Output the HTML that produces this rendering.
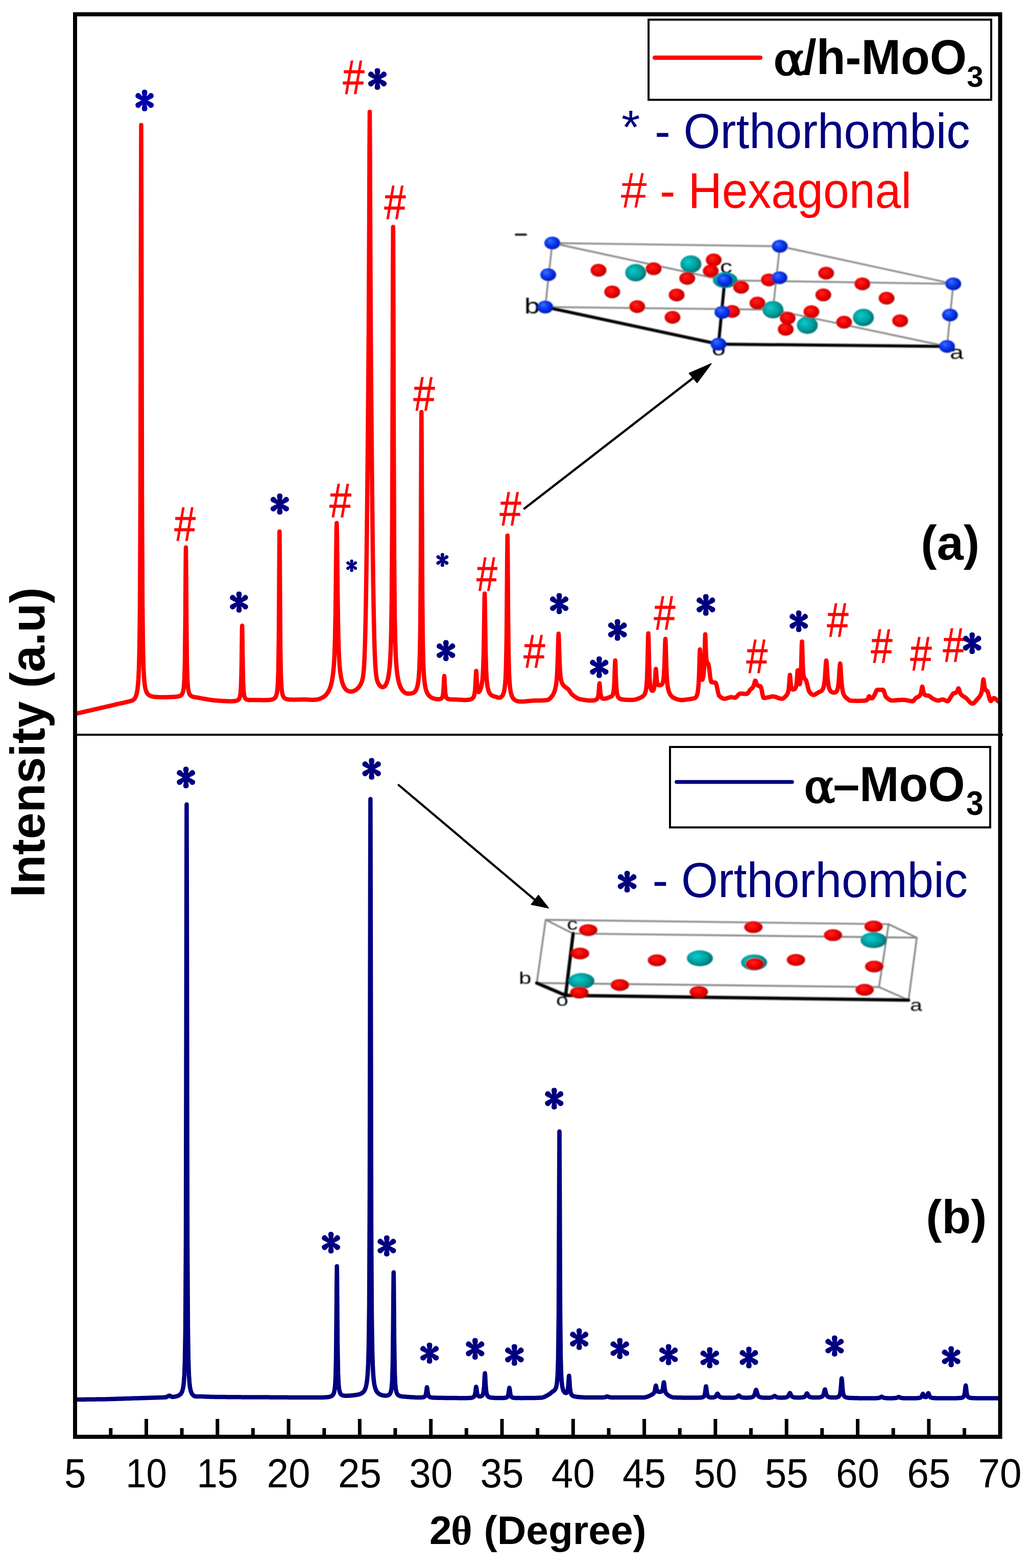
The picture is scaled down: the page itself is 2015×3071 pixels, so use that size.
<!DOCTYPE html>
<html><head><meta charset="utf-8"><title>XRD patterns of MoO3</title>
<style>html,body{margin:0;padding:0;background:#fff;width:2015px;height:3071px;overflow:hidden}svg{display:block}</style>
</head><body>
<svg width="2015" height="3071" viewBox="0 0 2015 3071"><defs>
<radialGradient id="gr" cx="0.45" cy="0.45" r="0.6" fx="0.4" fy="0.35">
 <stop offset="0" stop-color="#ff2020"/><stop offset="0.55" stop-color="#f00000"/><stop offset="0.85" stop-color="#c00000"/><stop offset="1" stop-color="#900000"/></radialGradient>
<radialGradient id="gt" cx="0.45" cy="0.45" r="0.6" fx="0.35" fy="0.35">
 <stop offset="0" stop-color="#10caca"/><stop offset="0.5" stop-color="#00a8a8"/><stop offset="0.85" stop-color="#008080"/><stop offset="1" stop-color="#005555"/></radialGradient>
<radialGradient id="gb" cx="0.45" cy="0.45" r="0.6" fx="0.35" fy="0.3">
 <stop offset="0" stop-color="#4070ff"/><stop offset="0.5" stop-color="#0a3af0"/><stop offset="0.85" stop-color="#0020c0"/><stop offset="1" stop-color="#001490"/></radialGradient>
<filter id="bl" x="-5%" y="-5%" width="110%" height="110%"><feGaussianBlur stdDeviation="0.9"/></filter>
</defs><rect width="2015" height="3071" fill="#fff"/><g filter="url(#bl)"><line x1="1081.5" y1="476.0" x2="1527.0" y2="482.3" stroke="#8a8a8a" stroke-width="3.5" stroke-linecap="round"/><line x1="1081.5" y1="476.0" x2="1419.2" y2="549.0" stroke="#8a8a8a" stroke-width="3.5" stroke-linecap="round"/><line x1="1419.2" y1="549.0" x2="1866.7" y2="555.9" stroke="#8a8a8a" stroke-width="3.5" stroke-linecap="round"/><line x1="1527.0" y1="482.3" x2="1866.7" y2="555.9" stroke="#8a8a8a" stroke-width="3.5" stroke-linecap="round"/><line x1="1081.5" y1="476.0" x2="1067.7" y2="601.3" stroke="#8a8a8a" stroke-width="3.5" stroke-linecap="round"/><line x1="1527.0" y1="482.3" x2="1513.6" y2="606.5" stroke="#8a8a8a" stroke-width="3.5" stroke-linecap="round"/><line x1="1866.7" y1="555.9" x2="1854.5" y2="678.5" stroke="#8a8a8a" stroke-width="3.5" stroke-linecap="round"/><line x1="1067.7" y1="601.3" x2="1513.6" y2="606.5" stroke="#8a8a8a" stroke-width="3.5" stroke-linecap="round"/><line x1="1513.6" y1="606.5" x2="1854.5" y2="678.5" stroke="#8a8a8a" stroke-width="3.5" stroke-linecap="round"/><line x1="1010.0" y1="459.5" x2="1030.0" y2="459.5" stroke="#111" stroke-width="4" stroke-linecap="round"/><line x1="1067.7" y1="601.3" x2="1407.0" y2="674.0" stroke="#000" stroke-width="6" stroke-linecap="round"/><line x1="1407.0" y1="674.0" x2="1854.5" y2="678.5" stroke="#000" stroke-width="6" stroke-linecap="round"/><line x1="1407.0" y1="674.0" x2="1419.2" y2="549.0" stroke="#000" stroke-width="6" stroke-linecap="round"/><text transform="translate(1027,614) scale(1.25,1)" font-family="'Liberation Sans', Arial, sans-serif" font-size="43" fill="#000">b</text><text transform="translate(1410,535) scale(1.3,1)" font-family="'Liberation Sans', Arial, sans-serif" font-size="37" fill="#000">c</text><text transform="translate(1394,696) scale(1.3,1)" font-family="'Liberation Sans', Arial, sans-serif" font-size="37" fill="#000">o</text><text transform="translate(1860,703) scale(1.3,1)" font-family="'Liberation Sans', Arial, sans-serif" font-size="37" fill="#000">a</text><ellipse cx="1244.8" cy="534.0" rx="20.5" ry="17" fill="url(#gt)"/><ellipse cx="1352.9" cy="517.2" rx="20.5" ry="17" fill="url(#gt)"/><ellipse cx="1513.6" cy="606.5" rx="20.5" ry="17" fill="url(#gt)"/><ellipse cx="1580.9" cy="636.9" rx="20.5" ry="17" fill="url(#gt)"/><ellipse cx="1690.7" cy="621.8" rx="20.5" ry="17" fill="url(#gt)"/><ellipse cx="1420.0" cy="548.5" rx="24" ry="15.5" fill="url(#gt)"/><ellipse cx="1172.0" cy="529.3" rx="15.5" ry="12.5" fill="url(#gr)"/><ellipse cx="1280.0" cy="526.3" rx="15.5" ry="12.5" fill="url(#gr)"/><ellipse cx="1397.6" cy="509.1" rx="15.5" ry="12.5" fill="url(#gr)"/><ellipse cx="1391.8" cy="530.8" rx="15.5" ry="12.5" fill="url(#gr)"/><ellipse cx="1345.7" cy="545.2" rx="15.5" ry="12.5" fill="url(#gr)"/><ellipse cx="1198.8" cy="571.7" rx="15.5" ry="12.5" fill="url(#gr)"/><ellipse cx="1325.0" cy="577.7" rx="15.5" ry="12.5" fill="url(#gr)"/><ellipse cx="1247.8" cy="600.5" rx="15.5" ry="12.5" fill="url(#gr)"/><ellipse cx="1316.9" cy="621.5" rx="15.5" ry="12.5" fill="url(#gr)"/><ellipse cx="1451.2" cy="562.6" rx="15.5" ry="12.5" fill="url(#gr)"/><ellipse cx="1433.6" cy="610.0" rx="15.5" ry="12.5" fill="url(#gr)"/><ellipse cx="1505.6" cy="548.2" rx="15.5" ry="12.5" fill="url(#gr)"/><ellipse cx="1483.2" cy="593.6" rx="15.5" ry="12.5" fill="url(#gr)"/><ellipse cx="1617.7" cy="535.0" rx="15.5" ry="12.5" fill="url(#gr)"/><ellipse cx="1688.7" cy="555.9" rx="15.5" ry="12.5" fill="url(#gr)"/><ellipse cx="1612.2" cy="577.6" rx="15.5" ry="12.5" fill="url(#gr)"/><ellipse cx="1736.1" cy="584.0" rx="15.5" ry="12.5" fill="url(#gr)"/><ellipse cx="1588.9" cy="610.6" rx="15.5" ry="12.5" fill="url(#gr)"/><ellipse cx="1542.4" cy="623.1" rx="15.5" ry="12.5" fill="url(#gr)"/><ellipse cx="1538.6" cy="644.9" rx="15.5" ry="12.5" fill="url(#gr)"/><ellipse cx="1652.9" cy="631.1" rx="15.5" ry="12.5" fill="url(#gr)"/><ellipse cx="1762.7" cy="628.2" rx="15.5" ry="12.5" fill="url(#gr)"/><ellipse cx="1081.5" cy="476.0" rx="15.5" ry="12.5" fill="url(#gb)"/><ellipse cx="1073.5" cy="538.0" rx="15.5" ry="12.5" fill="url(#gb)"/><ellipse cx="1067.7" cy="601.3" rx="15.5" ry="12.5" fill="url(#gb)"/><ellipse cx="1407.0" cy="674.0" rx="15.5" ry="12.5" fill="url(#gb)"/><ellipse cx="1414.7" cy="611.7" rx="15.5" ry="12.5" fill="url(#gb)"/><ellipse cx="1419.2" cy="549.0" rx="15.5" ry="12.5" fill="url(#gb)"/><ellipse cx="1527.0" cy="482.3" rx="15.5" ry="12.5" fill="url(#gb)"/><ellipse cx="1526.4" cy="544.0" rx="15.5" ry="12.5" fill="url(#gb)"/><ellipse cx="1866.7" cy="555.9" rx="15.5" ry="12.5" fill="url(#gb)"/><ellipse cx="1860.3" cy="617.0" rx="15.5" ry="12.5" fill="url(#gb)"/><ellipse cx="1854.5" cy="678.5" rx="15.5" ry="12.5" fill="url(#gb)"/></g><g filter="url(#bl)"><line x1="1068.6" y1="1801.5" x2="1740.1" y2="1810.1" stroke="#858585" stroke-width="3.4" stroke-linecap="round"/><line x1="1068.6" y1="1801.5" x2="1122.3" y2="1828.4" stroke="#858585" stroke-width="3.4" stroke-linecap="round"/><line x1="1068.6" y1="1801.5" x2="1051.1" y2="1925.2" stroke="#858585" stroke-width="3.4" stroke-linecap="round"/><line x1="1122.3" y1="1828.4" x2="1795.3" y2="1836.5" stroke="#858585" stroke-width="3.4" stroke-linecap="round"/><line x1="1051.1" y1="1925.2" x2="1721.3" y2="1933.3" stroke="#858585" stroke-width="3.4" stroke-linecap="round"/><line x1="1740.1" y1="1810.1" x2="1795.3" y2="1836.5" stroke="#858585" stroke-width="3.4" stroke-linecap="round"/><line x1="1740.1" y1="1810.1" x2="1721.3" y2="1933.3" stroke="#858585" stroke-width="3.4" stroke-linecap="round"/><line x1="1795.3" y1="1836.5" x2="1779.1" y2="1958.8" stroke="#858585" stroke-width="3.4" stroke-linecap="round"/><line x1="1721.3" y1="1933.3" x2="1779.1" y2="1958.8" stroke="#858585" stroke-width="3.4" stroke-linecap="round"/><line x1="1122.3" y1="1828.4" x2="1107.6" y2="1949.4" stroke="#000" stroke-width="6.5" stroke-linecap="round"/><line x1="1051.1" y1="1925.2" x2="1107.6" y2="1949.4" stroke="#000" stroke-width="6.5" stroke-linecap="round"/><line x1="1107.6" y1="1949.4" x2="1779.1" y2="1958.8" stroke="#000" stroke-width="6.5" stroke-linecap="round"/><text transform="translate(1110,1821) scale(1.3,1)" font-family="'Liberation Sans', Arial, sans-serif" font-size="33" fill="#000">c</text><text transform="translate(1016,1927) scale(1.3,1)" font-family="'Liberation Sans', Arial, sans-serif" font-size="34" fill="#000">b</text><text transform="translate(1089,1970) scale(1.3,1)" font-family="'Liberation Sans', Arial, sans-serif" font-size="33" fill="#000">o</text><text transform="translate(1782,1979.5) scale(1.3,1)" font-family="'Liberation Sans', Arial, sans-serif" font-size="33" fill="#000">a</text><ellipse cx="1370.5" cy="1876.8" rx="25.5" ry="15.5" fill="url(#gt)"/><ellipse cx="1138.5" cy="1921.2" rx="25.5" ry="15.5" fill="url(#gt)"/><ellipse cx="1476.6" cy="1884.9" rx="25.5" ry="15.5" fill="url(#gt)"/><ellipse cx="1710.6" cy="1841.3" rx="25.5" ry="15.5" fill="url(#gt)"/><ellipse cx="1151.9" cy="1821.7" rx="18" ry="11.5" fill="url(#gr)"/><ellipse cx="1135.8" cy="1867.4" rx="18" ry="11.5" fill="url(#gr)"/><ellipse cx="1286.4" cy="1880.8" rx="18" ry="11.5" fill="url(#gr)"/><ellipse cx="1213.8" cy="1929.2" rx="18" ry="11.5" fill="url(#gr)"/><ellipse cx="1134.4" cy="1944.0" rx="18" ry="11.5" fill="url(#gr)"/><ellipse cx="1368.4" cy="1942.7" rx="18" ry="11.5" fill="url(#gr)"/><ellipse cx="1475.3" cy="1815.8" rx="18" ry="11.5" fill="url(#gr)"/><ellipse cx="1631.2" cy="1831.6" rx="18" ry="11.5" fill="url(#gr)"/><ellipse cx="1710.6" cy="1814.4" rx="18" ry="11.5" fill="url(#gr)"/><ellipse cx="1558.6" cy="1880.0" rx="18" ry="11.5" fill="url(#gr)"/><ellipse cx="1478.0" cy="1888.1" rx="18" ry="11.5" fill="url(#gr)"/><ellipse cx="1711.9" cy="1892.9" rx="18" ry="11.5" fill="url(#gr)"/><ellipse cx="1693.1" cy="1938.6" rx="18" ry="11.5" fill="url(#gr)"/></g><polyline fill="none" stroke="#ff0000" stroke-width="8.5" stroke-linejoin="round" stroke-linecap="round" points="151,1397.3 152,1397.1 153,1396.8 154,1396.6 155,1396.4 156,1396.1 157,1395.9 158,1395.7 159,1395.5 160,1395.2 161,1395.0 162,1394.8 163,1394.5 164,1394.3 165,1394.1 166,1393.8 167,1393.6 168,1393.4 169,1393.1 170,1392.9 171,1392.7 172,1392.4 173,1392.2 174,1392.0 175,1391.8 176,1391.5 177,1391.3 178,1391.1 179,1390.8 180,1390.6 181,1390.4 182,1390.1 183,1389.9 184,1389.7 185,1389.4 186,1389.2 187,1389.0 188,1388.8 189,1388.5 190,1388.3 191,1388.1 192,1387.8 193,1387.6 194,1387.4 195,1387.1 196,1386.9 197,1386.7 198,1386.4 199,1386.2 200,1386.0 201,1385.8 202,1385.5 203,1385.3 204,1385.1 205,1384.8 206,1384.6 207,1384.4 208,1384.2 209,1383.9 210,1383.7 211,1383.5 212,1383.2 213,1383.0 214,1382.8 215,1382.5 216,1382.3 217,1382.0 218,1381.8 219,1381.5 220,1381.3 221,1381.1 222,1380.8 223,1380.6 224,1380.3 225,1380.1 226,1379.9 227,1379.6 228,1379.4 229,1379.2 230,1378.9 231,1378.7 232,1378.5 233,1378.3 234,1378.1 235,1377.9 236,1377.7 237,1377.5 238,1377.3 239,1377.1 240,1376.8 241,1376.6 242,1376.4 243,1376.1 244,1375.9 245,1375.6 246,1375.4 247,1375.2 248,1374.9 249,1374.7 250,1374.5 251,1374.2 252,1374.0 253,1373.7 254,1373.5 255,1373.2 256,1372.9 257,1372.6 258,1372.3 259,1371.9 260,1371.4 261,1370.8 262,1370.0 263,1369.0 264,1367.7 265,1366.0 266,1363.7 267,1360.8 268,1356.9 269,1351.4 270,1343.4 271,1331.0 272,1310.4 273,1272.2 274,1190.3 275,978.5 276,438.0 276.5,244.8 277,437.6 278,977.1 279,1188.0 280,1269.0 281,1306.4 282,1326.1 283,1337.7 284,1345.0 285,1349.9 286,1353.2 287,1355.6 288,1357.5 289,1358.9 290,1360.0 291,1360.9 292,1361.7 293,1362.3 294,1362.8 295,1363.2 296,1363.5 297,1363.8 298,1364.0 299,1364.3 300,1364.4 301,1364.6 302,1364.7 303,1364.9 304,1365.0 305,1365.0 306,1365.1 307,1365.2 308,1365.2 309,1365.3 310,1365.3 311,1365.4 312,1365.4 313,1365.4 314,1365.5 315,1365.5 316,1365.5 317,1365.5 318,1365.5 319,1365.5 320,1365.5 321,1365.5 322,1365.5 323,1365.5 324,1365.4 325,1365.4 326,1365.4 327,1365.4 328,1365.3 329,1365.3 330,1365.3 331,1365.3 332,1365.2 333,1365.2 334,1365.1 335,1365.1 336,1365.1 337,1365.0 338,1365.0 339,1364.9 340,1364.9 341,1364.8 342,1364.7 343,1364.7 344,1364.6 345,1364.5 346,1364.4 347,1364.3 348,1364.1 349,1364.0 350,1363.7 351,1363.5 352,1363.1 353,1362.7 354,1362.1 355,1361.3 356,1360.2 357,1358.6 358,1356.2 359,1352.2 360,1345.1 361,1331.0 362,1297.6 363,1205.1 363.5,1122.6 364,1072.3 364.5,1122.6 365,1205.2 366,1297.8 367,1331.2 368,1345.4 369,1352.5 370,1356.6 371,1359.1 372,1360.7 373,1361.9 374,1362.8 375,1363.4 376,1363.9 377,1364.3 378,1364.7 379,1364.9 380,1365.2 381,1365.4 382,1365.6 383,1365.7 384,1365.9 385,1366.0 386,1366.1 387,1366.3 388,1366.5 389,1366.6 390,1366.8 391,1367.0 392,1367.2 393,1367.4 394,1367.6 395,1367.8 396,1368.0 397,1368.2 398,1368.3 399,1368.5 400,1368.7 401,1368.9 402,1369.0 403,1369.2 404,1369.4 405,1369.6 406,1369.7 407,1369.9 408,1370.1 409,1370.3 410,1370.4 411,1370.6 412,1370.7 413,1370.9 414,1371.0 415,1371.2 416,1371.3 417,1371.4 418,1371.5 419,1371.7 420,1371.8 421,1371.8 422,1371.9 423,1372.0 424,1372.1 425,1372.1 426,1372.2 427,1372.3 428,1372.4 429,1372.4 430,1372.5 431,1372.6 432,1372.6 433,1372.7 434,1372.8 435,1372.8 436,1372.9 437,1373.0 438,1373.0 439,1373.1 440,1373.1 441,1373.2 442,1373.2 443,1373.2 444,1373.3 445,1373.3 446,1373.3 447,1373.4 448,1373.4 449,1373.4 450,1373.4 451,1373.4 452,1373.4 453,1373.4 454,1373.4 455,1373.4 456,1373.3 457,1373.3 458,1373.2 459,1373.1 460,1373.0 461,1372.9 462,1372.7 463,1372.4 464,1372.1 465,1371.7 466,1371.1 467,1370.3 468,1369.1 469,1367.2 470,1364.0 471,1357.8 472,1343.8 473,1305.8 473.7,1250.8 474,1230.2 474.2,1225.5 474.7,1250.7 475,1276.5 476,1332.8 477,1353.2 478,1361.4 479,1365.3 480,1367.5 481,1368.8 482,1369.6 483,1370.1 484,1370.4 485,1370.6 486,1370.8 487,1370.9 488,1371.0 489,1371.0 490,1371.0 491,1371.0 492,1371.0 493,1371.0 494,1371.0 495,1371.0 496,1371.0 497,1371.0 498,1371.0 499,1371.0 500,1371.0 501,1371.0 502,1371.0 503,1371.0 504,1371.0 505,1371.1 506,1371.1 507,1371.1 508,1371.1 509,1371.1 510,1371.1 511,1371.1 512,1371.2 513,1371.2 514,1371.2 515,1371.2 516,1371.2 517,1371.2 518,1371.2 519,1371.2 520,1371.2 521,1371.2 522,1371.1 523,1371.1 524,1371.1 525,1371.0 526,1370.9 527,1370.9 528,1370.8 529,1370.6 530,1370.5 531,1370.3 532,1370.1 533,1369.9 534,1369.6 535,1369.2 536,1368.7 537,1368.1 538,1367.3 539,1366.1 540,1364.6 541,1362.2 542,1358.5 543,1352.2 544,1340.3 545,1314.2 546,1245.4 546.9,1097.6 547,1079.6 547.4,1041.0 547.9,1097.6 548,1116.8 549,1265.5 550,1321.3 551,1343.3 552,1353.6 553,1359.2 554,1362.5 555,1364.7 556,1366.1 557,1367.1 558,1367.8 559,1368.4 560,1368.8 561,1369.1 562,1369.4 563,1369.6 564,1369.8 565,1369.9 566,1370.0 567,1370.1 568,1370.2 569,1370.2 570,1370.3 571,1370.3 572,1370.3 573,1370.3 574,1370.4 575,1370.4 576,1370.4 577,1370.4 578,1370.3 579,1370.3 580,1370.3 581,1370.3 582,1370.3 583,1370.3 584,1370.2 585,1370.2 586,1370.2 587,1370.1 588,1370.1 589,1370.0 590,1370.0 591,1370.0 592,1369.9 593,1369.9 594,1369.9 595,1369.9 596,1370.0 597,1370.0 598,1370.0 599,1370.1 600,1370.1 601,1370.2 602,1370.2 603,1370.3 604,1370.4 605,1370.4 606,1370.5 607,1370.5 608,1370.6 609,1370.6 610,1370.6 611,1370.7 612,1370.7 613,1370.7 614,1370.6 615,1370.6 616,1370.6 617,1370.5 618,1370.4 619,1370.3 620,1370.2 621,1370.0 622,1369.8 623,1369.6 624,1369.3 625,1369.0 626,1368.7 627,1368.3 628,1367.9 629,1367.5 630,1367.0 631,1366.5 632,1365.9 633,1365.3 634,1364.6 635,1363.9 636,1363.1 637,1362.2 638,1361.2 639,1360.1 640,1358.9 641,1357.6 642,1356.1 643,1354.4 644,1352.5 645,1350.4 646,1347.9 647,1345.1 648,1341.9 649,1338.1 650,1333.6 651,1328.1 652,1321.2 653,1312.3 654,1299.9 655,1281.4 656,1251.7 657,1200.6 658,1116.0 658.8,1042.6 659,1031.2 659.3,1024.4 659.8,1042.4 660,1057.8 661,1153.3 662,1223.5 663,1264.1 664,1288.0 665,1303.3 666,1313.7 667,1321.3 668,1327.2 669,1331.9 670,1335.7 671,1338.9 672,1341.5 673,1343.8 674,1345.7 675,1347.3 676,1348.7 677,1349.9 678,1350.9 679,1351.8 680,1352.5 681,1353.0 682,1353.5 683,1353.9 684,1354.2 685,1354.4 686,1354.5 687,1354.5 688,1354.5 689,1354.4 690,1354.2 691,1353.9 692,1353.6 693,1353.3 694,1352.8 695,1352.3 696,1351.7 697,1351.1 698,1350.4 699,1349.5 700,1348.6 701,1347.6 702,1346.5 703,1345.3 704,1343.9 705,1342.4 706,1340.7 707,1338.8 708,1336.5 709,1333.7 710,1329.9 711,1324.4 712,1316.0 713,1303.0 714,1283.0 715,1253.0 716,1210.2 717,1152.1 718,1078.1 719,989.3 720,888.6 721,777.4 722,644.4 723,437.1 723.5,295.9 724,219.0 724.5,296.0 725,437.2 726,644.6 727,777.6 728,888.9 729,989.7 730,1078.6 731,1152.7 732,1210.7 733,1253.6 734,1283.5 735,1303.6 736,1316.6 737,1324.9 738,1330.3 739,1334.0 740,1336.7 741,1338.7 742,1340.4 743,1341.8 744,1343.0 745,1343.9 746,1344.7 747,1345.3 748,1345.6 749,1345.8 750,1345.8 751,1345.5 752,1345.0 753,1344.2 754,1343.2 755,1341.8 756,1340.1 757,1337.9 758,1335.2 759,1331.9 760,1327.8 761,1322.6 762,1315.8 763,1306.7 764,1293.6 765,1273.7 766,1239.8 767,1174.2 768,1026.7 769,687.6 769.3,558.5 769.8,444.4 770,464.9 770.3,558.6 771,852.1 772,1101.9 773,1206.9 774,1256.7 775,1284.0 776,1300.9 777,1312.3 778,1320.7 779,1327.1 780,1332.2 781,1336.3 782,1339.8 783,1342.7 784,1345.2 785,1347.3 786,1349.2 787,1350.7 788,1352.1 789,1353.3 790,1354.3 791,1355.2 792,1356.0 793,1356.7 794,1357.2 795,1357.7 796,1358.1 797,1358.4 798,1358.5 799,1358.6 800,1358.6 801,1358.6 802,1358.5 803,1358.4 804,1358.3 805,1358.2 806,1358.0 807,1357.8 808,1357.5 809,1357.1 810,1356.6 811,1355.9 812,1355.1 813,1353.9 814,1352.5 815,1350.7 816,1348.4 817,1345.3 818,1341.1 819,1335.2 820,1326.4 821,1312.3 822,1286.9 823,1233.1 824,1099.3 824.8,887.0 825,838.8 825.3,807.0 825.8,887.2 826,944.6 827,1169.2 828,1261.2 829,1300.6 830,1320.8 831,1332.7 832,1340.6 833,1346.1 834,1350.2 835,1353.4 836,1355.9 837,1358.0 838,1359.7 839,1361.1 840,1362.3 841,1363.3 842,1364.2 843,1364.9 844,1365.6 845,1366.2 846,1366.7 847,1367.2 848,1367.6 849,1367.9 850,1368.2 851,1368.5 852,1368.7 853,1368.9 854,1369.1 855,1369.2 856,1369.3 857,1369.4 858,1369.4 859,1369.4 860,1369.4 861,1369.3 862,1369.1 863,1368.8 864,1368.3 865,1367.5 866,1366.0 867,1363.1 868,1356.7 869,1341.3 869.5,1330.0 870,1324.0 870.5,1330.0 871,1341.3 872,1356.7 873,1363.1 874,1366.0 875,1367.5 876,1368.3 877,1368.8 878,1369.1 879,1369.4 880,1369.5 881,1369.6 882,1369.7 883,1369.8 884,1369.8 885,1369.9 886,1369.9 887,1369.9 888,1369.9 889,1370.0 890,1370.0 891,1370.0 892,1370.1 893,1370.1 894,1370.2 895,1370.2 896,1370.2 897,1370.3 898,1370.4 899,1370.4 900,1370.5 901,1370.5 902,1370.6 903,1370.6 904,1370.7 905,1370.7 906,1370.8 907,1370.8 908,1370.9 909,1370.9 910,1370.9 911,1370.9 912,1370.9 913,1370.9 914,1370.8 915,1370.8 916,1370.7 917,1370.6 918,1370.5 919,1370.3 920,1370.1 921,1369.8 922,1369.5 923,1369.1 924,1368.6 925,1367.9 926,1366.9 927,1365.6 928,1363.6 929,1360.3 930,1354.0 931,1341.2 932,1319.6 932.5,1314.0 933,1318.8 934,1338.6 935,1349.8 936,1354.1 937,1355.4 938,1355.1 939,1353.9 940,1351.9 941,1349.2 942,1345.9 943,1341.6 943.5,1339.1 944,1336.0 944.5,1332.3 945,1327.7 946,1313.4 947,1285.3 948,1227.0 948.6,1180.7 949,1163.2 949.1,1162.4 949.6,1181.5 950,1212.6 951,1279.4 952,1313.3 953,1330.4 954,1340.2 955,1346.4 956,1350.7 957,1353.8 958,1356.1 959,1357.9 960,1359.3 961,1360.4 962,1361.2 963,1362.0 964,1362.5 965,1363.0 966,1363.4 967,1363.7 968,1363.9 969,1364.2 970,1364.4 971,1364.8 972,1365.1 973,1365.5 974,1365.9 975,1366.2 976,1366.4 977,1366.5 978,1366.5 979,1366.4 980,1366.0 981,1365.4 982,1364.6 983,1363.6 984,1362.2 985,1360.4 986,1357.9 987,1354.4 988,1349.3 989,1341.5 990,1328.2 991,1302.8 992,1245.6 993,1118.9 993.2,1089.0 993.7,1049.0 994,1064.8 994.2,1089.2 995,1205.1 996,1286.3 997,1321.2 998,1338.5 999,1348.3 1000,1354.7 1001,1359.0 1002,1362.2 1003,1364.6 1004,1366.4 1005,1367.9 1006,1369.1 1007,1370.0 1008,1370.8 1009,1371.5 1010,1372.0 1011,1372.5 1012,1372.8 1013,1373.1 1014,1373.4 1015,1373.6 1016,1373.7 1017,1373.9 1018,1373.9 1019,1374.0 1020,1374.0 1021,1374.1 1022,1374.0 1023,1374.0 1024,1374.0 1025,1373.9 1026,1373.9 1027,1373.8 1028,1373.7 1029,1373.6 1030,1373.5 1031,1373.4 1032,1373.3 1033,1373.2 1034,1373.1 1035,1373.0 1036,1372.9 1037,1372.8 1038,1372.7 1039,1372.6 1040,1372.5 1041,1372.4 1042,1372.4 1043,1372.3 1044,1372.2 1045,1372.2 1046,1372.1 1047,1372.1 1048,1372.0 1049,1372.0 1050,1372.0 1051,1372.0 1052,1372.0 1053,1372.0 1054,1372.0 1055,1372.0 1056,1372.0 1057,1371.9 1058,1371.9 1059,1371.9 1060,1371.9 1061,1371.8 1062,1371.8 1063,1371.8 1064,1371.7 1065,1371.7 1066,1371.6 1067,1371.5 1068,1371.5 1069,1371.4 1070,1371.3 1071,1371.1 1072,1371.0 1073,1370.7 1074,1370.3 1075,1369.7 1076,1368.9 1077,1368.0 1078,1367.0 1079,1365.9 1080,1364.7 1081,1363.4 1082,1362.0 1083,1360.4 1084,1358.6 1085,1356.4 1086,1353.7 1087,1350.3 1088,1346.1 1089,1340.3 1090,1332.0 1091,1318.6 1092,1295.2 1093,1259.0 1093.3,1249.0 1093.8,1241.0 1094,1242.1 1094.3,1247.9 1095,1271.9 1096,1301.8 1097,1318.5 1098,1327.6 1099,1332.9 1100,1336.4 1101,1338.7 1102,1340.5 1103,1341.8 1104,1343.0 1105,1344.0 1106,1344.9 1107,1345.7 1108,1346.5 1109,1347.2 1110,1347.9 1111,1348.6 1112,1349.2 1113,1350.2 1114,1351.4 1115,1352.9 1116,1354.5 1117,1356.1 1118,1357.7 1119,1359.0 1120,1360.0 1121,1360.8 1122,1361.6 1123,1362.4 1124,1363.2 1125,1363.9 1126,1364.6 1127,1365.3 1128,1365.9 1129,1366.5 1130,1367.1 1131,1367.6 1132,1368.1 1133,1368.5 1134,1368.9 1135,1369.2 1136,1369.4 1137,1369.6 1138,1369.8 1139,1370.0 1140,1370.2 1141,1370.4 1142,1370.5 1143,1370.7 1144,1370.9 1145,1371.0 1146,1371.2 1147,1371.3 1148,1371.4 1149,1371.6 1150,1371.7 1151,1371.8 1152,1371.8 1153,1371.9 1154,1372.0 1155,1372.0 1156,1372.0 1157,1372.0 1158,1372.0 1159,1372.0 1160,1371.9 1161,1371.9 1162,1371.8 1163,1371.6 1164,1371.4 1165,1371.2 1166,1370.9 1167,1370.5 1168,1369.9 1169,1369.0 1170,1367.5 1171,1364.9 1172,1359.5 1173,1348.5 1173.5,1341.6 1174,1338.3 1174.5,1341.5 1175,1348.2 1176,1358.9 1177,1363.9 1178,1366.3 1179,1367.4 1180,1368.0 1181,1368.3 1182,1368.4 1183,1368.5 1184,1368.5 1185,1368.4 1186,1368.2 1187,1367.9 1188,1367.6 1189,1367.3 1190,1366.9 1191,1366.5 1192,1366.1 1193,1365.7 1194,1365.3 1195,1365.0 1196,1364.6 1197,1364.1 1198,1363.4 1199,1362.3 1200,1360.4 1201,1357.0 1202,1350.1 1203,1335.2 1204,1306.7 1204.2,1300.9 1204.7,1293.5 1205,1296.5 1205.2,1301.1 1206,1326.0 1207,1346.7 1208,1356.5 1209,1361.5 1210,1364.3 1211,1366.0 1212,1367.2 1213,1368.0 1214,1368.6 1215,1369.0 1216,1369.3 1217,1369.5 1218,1369.7 1219,1369.9 1220,1370.0 1221,1370.2 1222,1370.3 1223,1370.4 1224,1370.4 1225,1370.5 1226,1370.6 1227,1370.6 1228,1370.7 1229,1370.7 1230,1370.7 1231,1370.8 1232,1370.8 1233,1370.8 1234,1370.8 1235,1370.8 1236,1370.8 1237,1370.8 1238,1370.8 1239,1370.8 1240,1370.7 1241,1370.6 1242,1370.5 1243,1370.3 1244,1370.1 1245,1369.8 1246,1369.5 1247,1369.2 1248,1368.9 1249,1368.5 1250,1368.1 1251,1367.7 1252,1367.3 1253,1366.9 1254,1366.5 1255,1366.0 1256,1365.5 1257,1364.9 1258,1364.3 1259,1363.6 1260,1362.7 1261,1361.6 1262,1360.1 1263,1358.2 1264,1355.3 1265,1350.8 1266,1343.0 1267,1328.2 1268,1298.3 1269,1251.6 1269.5,1240.5 1270,1251.2 1271,1297.0 1272,1326.1 1273,1340.0 1274,1346.8 1275,1350.3 1276,1352.1 1277,1352.9 1278,1353.0 1279,1352.3 1280,1350.6 1281,1347.4 1282,1341.3 1283,1329.1 1283.8,1314.7 1284,1311.9 1284.3,1310.0 1284.8,1313.5 1285,1316.5 1286,1331.0 1287,1338.1 1288,1340.8 1289,1341.8 1290,1342.1 1291,1342.1 1292,1342.0 1293,1341.9 1294,1341.7 1295,1341.2 1296,1340.5 1297,1339.1 1298,1336.6 1299,1332.0 1300,1323.2 1301,1305.5 1302,1274.3 1302.5,1258.1 1303,1251.3 1303.5,1259.2 1304,1276.5 1305,1309.9 1306,1329.7 1307,1340.7 1308,1347.3 1309,1351.7 1310,1354.9 1311,1357.3 1312,1359.3 1313,1361.0 1314,1362.4 1315,1363.5 1316,1364.5 1317,1365.4 1318,1366.0 1319,1366.5 1320,1367.1 1321,1367.5 1322,1368.0 1323,1368.4 1324,1368.8 1325,1369.2 1326,1369.5 1327,1369.8 1328,1370.1 1329,1370.3 1330,1370.5 1331,1370.7 1332,1370.8 1333,1370.9 1334,1371.0 1335,1371.0 1336,1371.0 1337,1370.9 1338,1370.9 1339,1370.8 1340,1370.7 1341,1370.6 1342,1370.5 1343,1370.3 1344,1370.2 1345,1370.1 1346,1369.9 1347,1369.7 1348,1369.6 1349,1369.4 1350,1369.3 1351,1369.1 1352,1369.0 1353,1368.9 1354,1368.7 1355,1368.6 1356,1368.4 1357,1368.2 1358,1368.0 1359,1367.7 1360,1367.4 1361,1366.9 1362,1366.3 1363,1365.4 1364,1363.7 1365,1361.1 1366,1357.2 1367,1351.1 1368,1340.5 1369,1320.2 1370,1285.0 1370.1,1281.6 1370.6,1272.0 1371,1276.3 1371.1,1278.8 1372,1306.1 1373,1323.8 1374,1330.2 1375,1331.4 1376,1330.0 1377,1326.1 1378,1318.7 1379,1304.5 1380,1275.1 1380.5,1254.3 1381,1242.3 1381.5,1250.1 1382,1266.8 1383,1288.5 1384,1295.9 1385,1298.2 1386,1299.2 1387,1300.3 1388,1304.4 1389,1311.3 1390,1319.5 1391,1327.4 1392,1333.5 1393,1336.0 1394,1336.2 1395,1336.4 1396,1336.5 1397,1336.6 1398,1336.7 1399,1336.8 1400,1336.9 1401,1337.0 1402,1338.2 1403,1341.3 1404,1345.6 1405,1350.5 1406,1355.3 1407,1359.4 1408,1362.3 1409,1363.5 1410,1364.3 1411,1365.1 1412,1365.9 1413,1366.5 1414,1367.1 1415,1367.6 1416,1368.0 1417,1368.3 1418,1368.5 1419,1368.5 1420,1368.4 1421,1368.3 1422,1368.0 1423,1367.8 1424,1367.4 1425,1367.1 1426,1366.7 1427,1366.4 1428,1366.1 1429,1365.8 1430,1365.6 1431,1365.5 1432,1365.5 1433,1365.6 1434,1365.7 1435,1365.9 1436,1366.1 1437,1366.3 1438,1366.4 1439,1366.5 1440,1366.4 1441,1365.9 1442,1365.1 1443,1364.1 1444,1363.0 1445,1361.8 1446,1360.7 1447,1359.7 1448,1359.0 1449,1358.6 1450,1358.5 1451,1358.5 1452,1358.6 1453,1358.6 1454,1358.7 1455,1358.7 1456,1358.8 1457,1358.9 1458,1358.9 1459,1359.0 1460,1359.0 1461,1359.0 1462,1359.0 1463,1358.8 1464,1358.0 1465,1356.8 1466,1355.4 1467,1353.8 1468,1352.3 1469,1350.9 1470,1350.0 1471,1349.3 1472,1348.4 1473,1347.5 1474,1346.3 1475,1344.7 1476,1342.4 1477,1339.2 1478,1335.3 1478.5,1333.7 1479,1333.0 1479.5,1333.4 1480,1334.6 1481,1337.7 1482,1340.2 1483,1341.7 1484,1342.6 1485,1343.1 1486,1343.5 1487,1343.7 1488,1343.8 1489,1344.0 1490,1345.5 1491,1349.2 1492,1354.0 1493,1359.2 1494,1363.6 1495,1366.5 1496,1367.0 1497,1367.0 1498,1366.9 1499,1366.7 1500,1366.6 1501,1366.4 1502,1366.2 1503,1366.0 1504,1365.8 1505,1365.6 1506,1365.4 1507,1365.1 1508,1364.9 1509,1364.6 1510,1364.4 1511,1364.2 1512,1364.1 1513,1364.0 1514,1364.0 1515,1364.1 1516,1364.2 1517,1364.5 1518,1364.7 1519,1365.1 1520,1365.4 1521,1365.8 1522,1366.2 1523,1366.6 1524,1366.9 1525,1367.3 1526,1367.6 1527,1367.9 1528,1368.2 1529,1368.4 1530,1368.5 1531,1368.5 1532,1368.4 1533,1368.1 1534,1367.6 1535,1366.9 1536,1366.0 1537,1365.1 1538,1364.1 1539,1363.1 1540,1362.0 1541,1360.7 1542,1359.0 1543,1356.4 1544,1352.3 1545,1344.7 1546,1330.4 1546.3,1325.8 1546.8,1321.7 1547,1322.1 1547.3,1324.8 1548,1334.5 1549,1344.1 1550,1348.1 1551,1349.7 1552,1350.3 1553,1350.4 1554,1350.2 1555,1350.0 1556,1349.6 1557,1348.7 1558,1347.2 1559,1344.2 1560,1337.9 1561,1325.0 1561.5,1316.9 1562,1312.8 1562.5,1316.3 1563,1323.9 1564,1335.6 1565,1340.0 1566,1340.0 1567,1335.8 1568,1325.0 1569,1301.0 1569.9,1266.4 1570,1263.2 1570.4,1256.4 1570.9,1264.4 1571,1267.6 1572,1301.0 1573,1318.4 1574,1325.5 1575,1328.3 1576,1329.6 1577,1330.5 1578,1331.7 1579,1334.2 1580,1337.6 1581,1341.6 1582,1345.8 1583,1349.8 1584,1353.0 1585,1355.0 1586,1356.2 1587,1357.3 1588,1358.4 1589,1359.3 1590,1360.0 1591,1360.5 1592,1360.9 1593,1361.0 1594,1360.9 1595,1360.6 1596,1360.2 1597,1359.7 1598,1359.1 1599,1358.4 1600,1357.8 1601,1357.1 1602,1356.5 1603,1355.9 1604,1355.4 1605,1355.0 1606,1354.6 1607,1354.2 1608,1353.6 1609,1352.8 1610,1351.7 1611,1350.2 1612,1348.0 1613,1344.7 1614,1339.6 1615,1331.4 1616,1318.6 1617,1302.4 1617.5,1296.0 1618,1293.6 1618.5,1296.1 1619,1302.6 1620,1318.9 1621,1331.9 1622,1340.3 1623,1345.6 1624,1349.0 1625,1351.3 1626,1352.9 1627,1354.1 1628,1354.9 1629,1355.5 1630,1356.0 1631,1356.3 1632,1356.5 1633,1356.6 1634,1356.6 1635,1356.4 1636,1356.0 1637,1355.4 1638,1354.3 1639,1352.6 1640,1349.9 1641,1345.6 1642,1338.4 1643,1326.8 1644,1311.1 1644.7,1301.8 1645,1299.8 1645.2,1299.5 1645.7,1302.2 1646,1305.9 1647,1322.4 1648,1336.7 1649,1346.3 1650,1352.5 1651,1356.6 1652,1359.5 1653,1361.6 1654,1363.3 1655,1364.6 1656,1365.7 1657,1366.7 1658,1367.5 1659,1368.3 1660,1369.0 1661,1369.8 1662,1370.8 1663,1371.6 1664,1372.0 1665,1372.1 1666,1372.2 1667,1372.3 1668,1372.4 1669,1372.4 1670,1372.5 1671,1372.5 1672,1372.6 1673,1372.6 1674,1372.6 1675,1372.6 1676,1372.7 1677,1372.7 1678,1372.7 1679,1372.7 1680,1372.7 1681,1372.7 1682,1372.7 1683,1372.7 1684,1372.6 1685,1372.6 1686,1372.6 1687,1372.6 1688,1372.5 1689,1372.5 1690,1372.4 1691,1372.4 1692,1372.3 1693,1372.2 1694,1372.1 1695,1371.9 1696,1371.7 1697,1371.3 1698,1370.6 1699,1369.5 1700,1367.7 1701,1365.2 1701.4,1364.2 1701.9,1363.6 1702,1363.6 1702.4,1363.8 1703,1364.9 1704,1366.6 1705,1367.5 1706,1367.8 1707,1367.7 1708,1367.4 1709,1366.6 1710,1365.3 1711,1363.6 1712,1362.0 1713,1360.1 1714,1357.8 1715,1355.3 1716,1353.2 1717,1351.6 1718,1351.0 1719,1351.0 1720,1351.0 1721,1351.0 1722,1351.0 1723,1351.0 1724,1351.0 1725,1351.0 1726,1351.0 1727,1351.0 1728,1351.0 1729,1351.0 1730,1351.9 1731,1354.2 1732,1357.3 1733,1360.5 1734,1363.3 1735,1365.0 1736,1365.9 1737,1366.8 1738,1367.7 1739,1368.5 1740,1369.2 1741,1369.9 1742,1370.5 1743,1371.0 1744,1371.5 1745,1371.8 1746,1371.9 1747,1372.0 1748,1372.0 1749,1371.9 1750,1371.9 1751,1371.8 1752,1371.7 1753,1371.6 1754,1371.5 1755,1371.4 1756,1371.3 1757,1371.2 1758,1371.1 1759,1371.1 1760,1371.0 1761,1371.0 1762,1370.9 1763,1370.9 1764,1370.8 1765,1370.8 1766,1370.8 1767,1370.7 1768,1370.7 1769,1370.7 1770,1370.7 1771,1370.8 1772,1370.9 1773,1371.0 1774,1371.2 1775,1371.4 1776,1371.6 1777,1371.8 1778,1372.0 1779,1372.3 1780,1372.5 1781,1372.7 1782,1372.9 1783,1373.1 1784,1373.2 1785,1373.3 1786,1373.4 1787,1373.4 1788,1373.1 1789,1372.4 1790,1371.3 1791,1370.0 1792,1368.8 1793,1367.6 1794,1366.6 1795,1366.0 1796,1365.6 1797,1365.2 1798,1364.7 1799,1364.1 1800,1363.4 1801,1362.5 1802,1361.0 1803,1358.7 1804,1354.8 1805,1348.8 1805.5,1345.9 1806,1344.7 1806.5,1345.8 1807,1348.4 1808,1354.1 1809,1357.7 1810,1359.7 1811,1360.7 1812,1361.4 1813,1361.8 1814,1362.0 1815,1362.2 1816,1362.3 1817,1362.4 1818,1362.5 1819,1362.7 1820,1363.3 1821,1364.0 1822,1364.9 1823,1365.8 1824,1366.6 1825,1367.4 1826,1368.0 1827,1368.5 1828,1369.0 1829,1369.5 1830,1370.0 1831,1370.4 1832,1370.9 1833,1371.2 1834,1371.5 1835,1371.8 1836,1371.9 1837,1372.0 1838,1371.9 1839,1371.8 1840,1371.5 1841,1371.2 1842,1370.8 1843,1370.5 1844,1370.3 1845,1370.1 1846,1370.0 1847,1370.1 1848,1370.4 1849,1370.8 1850,1371.2 1851,1371.8 1852,1372.3 1853,1372.7 1854,1373.1 1855,1373.3 1856,1373.4 1857,1372.8 1858,1371.6 1859,1370.0 1860,1368.2 1861,1366.5 1862,1365.0 1863,1363.5 1864,1361.9 1865,1360.3 1866,1358.9 1867,1358.0 1868,1357.7 1869,1357.5 1870,1357.3 1871,1357.0 1872,1356.5 1873,1355.8 1874,1354.4 1875,1352.3 1876,1349.5 1876.5,1348.5 1877,1348.2 1877.5,1348.9 1878,1350.3 1879,1353.7 1880,1356.6 1881,1358.6 1882,1360.1 1883,1361.2 1884,1362.1 1885,1362.9 1886,1363.6 1887,1364.2 1888,1364.8 1889,1365.4 1890,1366.0 1891,1366.6 1892,1367.5 1893,1368.4 1894,1369.4 1895,1370.5 1896,1371.6 1897,1372.8 1898,1373.9 1899,1374.9 1900,1375.9 1901,1376.7 1902,1377.3 1903,1377.8 1904,1378.0 1905,1377.9 1906,1377.6 1907,1376.9 1908,1376.1 1909,1375.0 1910,1373.9 1911,1372.7 1912,1371.4 1913,1370.2 1914,1369.0 1915,1368.0 1916,1367.0 1917,1365.8 1918,1364.5 1919,1363.1 1920,1361.4 1921,1359.3 1922,1356.5 1923,1352.2 1924,1345.1 1925,1334.8 1925.2,1332.9 1925.7,1330.5 1926,1331.0 1926.2,1332.1 1927,1338.9 1928,1345.9 1929,1349.4 1930,1351.2 1931,1352.1 1932,1352.6 1933,1353.1 1934,1354.8 1935,1357.9 1936,1361.7 1937,1365.7 1938,1369.3 1939,1371.9 1940,1373.0 1941,1372.6 1942,1371.5 1943,1370.1 1944,1368.6 1945,1367.6 1946,1367.2 1947,1367.4 1948,1367.8 1949,1368.4 1950,1369.2 1951,1370.0 1952,1370.9 1953,1371.9 1954,1372.8 1955,1373.7 1956,1374.5"/><polyline fill="none" stroke="#000080" stroke-width="8.5" stroke-linejoin="round" stroke-linecap="round" points="151,2741.0 152,2741.0 153,2741.0 154,2741.0 155,2741.0 156,2741.0 157,2740.9 158,2740.9 159,2740.9 160,2740.9 161,2740.9 162,2740.9 163,2740.9 164,2740.9 165,2740.9 166,2740.9 167,2740.9 168,2740.8 169,2740.8 170,2740.8 171,2740.8 172,2740.8 173,2740.8 174,2740.8 175,2740.8 176,2740.8 177,2740.8 178,2740.8 179,2740.7 180,2740.7 181,2740.7 182,2740.7 183,2740.7 184,2740.7 185,2740.7 186,2740.7 187,2740.7 188,2740.7 189,2740.6 190,2740.6 191,2740.6 192,2740.6 193,2740.6 194,2740.6 195,2740.6 196,2740.6 197,2740.5 198,2740.5 199,2740.5 200,2740.5 201,2740.5 202,2740.5 203,2740.4 204,2740.4 205,2740.4 206,2740.4 207,2740.4 208,2740.3 209,2740.3 210,2740.3 211,2740.3 212,2740.2 213,2740.2 214,2740.2 215,2740.2 216,2740.1 217,2740.1 218,2740.1 219,2740.0 220,2740.0 221,2740.0 222,2739.9 223,2739.9 224,2739.9 225,2739.8 226,2739.8 227,2739.8 228,2739.7 229,2739.7 230,2739.7 231,2739.6 232,2739.6 233,2739.6 234,2739.5 235,2739.5 236,2739.5 237,2739.4 238,2739.4 239,2739.4 240,2739.3 241,2739.3 242,2739.3 243,2739.2 244,2739.2 245,2739.2 246,2739.1 247,2739.1 248,2739.1 249,2739.0 250,2739.0 251,2739.0 252,2738.9 253,2738.9 254,2738.9 255,2738.9 256,2738.8 257,2738.8 258,2738.8 259,2738.7 260,2738.7 261,2738.7 262,2738.6 263,2738.6 264,2738.6 265,2738.6 266,2738.5 267,2738.5 268,2738.5 269,2738.4 270,2738.4 271,2738.4 272,2738.4 273,2738.3 274,2738.3 275,2738.3 276,2738.2 277,2738.2 278,2738.2 279,2738.2 280,2738.1 281,2738.1 282,2738.1 283,2738.0 284,2738.0 285,2738.0 286,2737.9 287,2737.9 288,2737.9 289,2737.8 290,2737.8 291,2737.8 292,2737.8 293,2737.7 294,2737.7 295,2737.7 296,2737.6 297,2737.6 298,2737.6 299,2737.5 300,2737.5 301,2737.5 302,2737.4 303,2737.4 304,2737.4 305,2737.3 306,2737.3 307,2737.3 308,2737.3 309,2737.2 310,2737.2 311,2737.2 312,2737.1 313,2737.1 314,2737.1 315,2737.0 316,2737.0 317,2737.0 318,2736.9 319,2736.9 320,2736.8 321,2736.8 322,2736.7 323,2736.6 324,2736.6 325,2736.5 326,2736.3 327,2735.8 328,2735.1 329,2734.5 330,2733.9 331,2733.6 332,2733.5 333,2733.8 334,2734.3 335,2734.9 336,2735.5 337,2735.9 338,2736.0 339,2735.9 340,2735.8 341,2735.6 342,2735.5 343,2735.3 344,2735.1 345,2734.8 346,2734.6 347,2734.3 348,2733.9 349,2733.5 350,2733.1 351,2732.5 352,2731.8 353,2731.0 354,2729.9 355,2728.6 356,2726.8 357,2724.3 358,2720.7 359,2715.4 360,2707.0 361,2692.7 362,2665.4 363,2604.2 364,2430.0 365,1849.6 365.5,1575.5 366,1849.7 367,2430.3 368,2604.7 369,2666.0 370,2693.5 371,2707.9 372,2716.4 373,2721.9 374,2725.5 375,2728.1 376,2730.0 377,2731.4 378,2732.5 379,2733.3 380,2733.9 381,2734.4 382,2734.7 383,2734.9 384,2735.1 385,2735.1 386,2735.2 387,2735.1 388,2735.1 389,2735.1 390,2735.0 391,2735.0 392,2734.9 393,2734.9 394,2734.9 395,2735.0 396,2735.1 397,2735.1 398,2735.2 399,2735.2 400,2735.3 401,2735.3 402,2735.4 403,2735.4 404,2735.5 405,2735.5 406,2735.5 407,2735.6 408,2735.6 409,2735.6 410,2735.7 411,2735.7 412,2735.7 413,2735.7 414,2735.8 415,2735.8 416,2735.8 417,2735.8 418,2735.8 419,2735.9 420,2735.9 421,2735.9 422,2735.9 423,2735.9 424,2735.9 425,2736.0 426,2736.0 427,2736.0 428,2736.0 429,2736.0 430,2736.0 431,2736.0 432,2736.0 433,2736.1 434,2736.1 435,2736.1 436,2736.1 437,2736.1 438,2736.1 439,2736.1 440,2736.1 441,2736.1 442,2736.1 443,2736.2 444,2736.2 445,2736.2 446,2736.2 447,2736.2 448,2736.2 449,2736.2 450,2736.2 451,2736.2 452,2736.2 453,2736.2 454,2736.2 455,2736.2 456,2736.2 457,2736.3 458,2736.3 459,2736.3 460,2736.3 461,2736.3 462,2736.3 463,2736.3 464,2736.3 465,2736.3 466,2736.3 467,2736.3 468,2736.3 469,2736.3 470,2736.3 471,2736.3 472,2736.3 473,2736.4 474,2736.4 475,2736.4 476,2736.4 477,2736.4 478,2736.4 479,2736.4 480,2736.4 481,2736.4 482,2736.4 483,2736.4 484,2736.4 485,2736.4 486,2736.4 487,2736.4 488,2736.4 489,2736.4 490,2736.4 491,2736.5 492,2736.5 493,2736.5 494,2736.5 495,2736.5 496,2736.5 497,2736.5 498,2736.5 499,2736.5 500,2736.5 501,2736.5 502,2736.5 503,2736.5 504,2736.5 505,2736.5 506,2736.5 507,2736.5 508,2736.5 509,2736.6 510,2736.6 511,2736.6 512,2736.6 513,2736.6 514,2736.6 515,2736.6 516,2736.6 517,2736.6 518,2736.6 519,2736.6 520,2736.6 521,2736.6 522,2736.6 523,2736.6 524,2736.6 525,2736.6 526,2736.6 527,2736.6 528,2736.7 529,2736.7 530,2736.7 531,2736.7 532,2736.7 533,2736.7 534,2736.7 535,2736.7 536,2736.7 537,2736.7 538,2736.7 539,2736.7 540,2736.7 541,2736.7 542,2736.7 543,2736.7 544,2736.7 545,2736.7 546,2736.8 547,2736.8 548,2736.8 549,2736.8 550,2736.8 551,2736.8 552,2736.8 553,2736.8 554,2736.8 555,2736.8 556,2736.8 557,2736.8 558,2736.8 559,2736.8 560,2736.8 561,2736.8 562,2736.8 563,2736.8 564,2736.8 565,2736.9 566,2736.9 567,2736.9 568,2736.9 569,2736.9 570,2736.9 571,2736.9 572,2736.9 573,2736.9 574,2736.9 575,2736.9 576,2736.9 577,2736.9 578,2736.9 579,2736.9 580,2736.9 581,2736.9 582,2736.9 583,2736.9 584,2736.9 585,2736.9 586,2737.0 587,2737.0 588,2737.0 589,2737.0 590,2737.0 591,2737.0 592,2737.0 593,2737.0 594,2737.0 595,2737.0 596,2737.0 597,2737.0 598,2737.0 599,2737.0 600,2737.0 601,2737.0 602,2737.0 603,2737.0 604,2737.0 605,2737.0 606,2737.0 607,2737.0 608,2737.0 609,2737.0 610,2737.0 611,2737.0 612,2737.0 613,2737.0 614,2737.0 615,2737.1 616,2737.1 617,2737.1 618,2737.1 619,2737.1 620,2737.1 621,2737.0 622,2737.0 623,2737.0 624,2737.0 625,2737.0 626,2737.0 627,2737.0 628,2737.0 629,2737.0 630,2737.0 631,2736.9 632,2736.9 633,2736.9 634,2736.8 635,2736.8 636,2736.8 637,2736.7 638,2736.6 639,2736.6 640,2736.5 641,2736.4 642,2736.3 643,2736.1 644,2736.0 645,2735.8 646,2735.5 647,2735.2 648,2734.8 649,2734.4 650,2733.7 651,2732.9 652,2731.8 653,2730.1 654,2727.6 655,2723.4 656,2715.8 657,2700.1 658,2660.8 659,2553.9 659.2,2523.9 659.7,2480.0 660,2497.7 660.2,2523.9 661,2629.3 662,2688.4 663,2710.4 664,2720.2 665,2725.3 666,2728.2 667,2730.0 668,2731.2 669,2732.0 670,2732.5 671,2732.9 672,2733.2 673,2733.4 674,2733.5 675,2733.6 676,2733.7 677,2733.7 678,2733.7 679,2733.7 680,2733.7 681,2733.6 682,2733.6 683,2733.5 684,2733.4 685,2733.4 686,2733.3 687,2733.2 688,2733.1 689,2733.0 690,2732.9 691,2732.8 692,2732.7 693,2732.6 694,2732.5 695,2732.4 696,2732.2 697,2732.1 698,2731.9 699,2731.8 700,2731.6 701,2731.4 702,2731.1 703,2730.9 704,2730.6 705,2730.3 706,2729.9 707,2729.4 708,2728.9 709,2728.3 710,2727.6 711,2726.7 712,2725.6 713,2724.3 714,2722.7 715,2720.6 716,2717.9 717,2714.2 718,2709.2 719,2701.8 720,2690.5 721,2671.4 722,2635.5 723,2555.7 724,2334.7 724.9,1797.4 725,1725.3 725.4,1565.0 725.9,1797.5 726,1872.7 727,2401.0 728,2578.1 729,2645.2 730,2676.6 731,2693.7 732,2704.2 733,2711.1 734,2715.9 735,2719.4 736,2722.0 737,2724.1 738,2725.7 739,2727.1 740,2728.1 741,2729.1 742,2729.8 743,2730.4 744,2731.0 745,2731.5 746,2731.9 747,2732.2 748,2732.5 749,2732.7 750,2732.9 751,2733.1 752,2733.2 753,2733.3 754,2733.4 755,2733.4 756,2733.4 757,2733.3 758,2733.2 759,2732.9 760,2732.6 761,2732.2 762,2731.5 763,2730.6 764,2729.2 765,2727.0 766,2723.4 767,2716.7 768,2703.0 769,2669.4 770,2576.3 770.3,2533.7 770.8,2492.0 771,2499.8 771.3,2533.8 772,2624.5 773,2687.1 774,2710.1 775,2720.2 776,2725.5 777,2728.5 778,2730.4 779,2731.7 780,2732.5 781,2733.2 782,2733.7 783,2734.1 784,2734.4 785,2734.6 786,2734.8 787,2735.0 788,2735.1 789,2735.2 790,2735.3 791,2735.4 792,2735.5 793,2735.6 794,2735.6 795,2735.7 796,2735.8 797,2735.8 798,2735.9 799,2736.0 800,2736.0 801,2736.1 802,2736.2 803,2736.2 804,2736.3 805,2736.4 806,2736.4 807,2736.5 808,2736.5 809,2736.6 810,2736.7 811,2736.7 812,2736.8 813,2736.8 814,2736.9 815,2736.9 816,2736.9 817,2737.0 818,2737.0 819,2737.0 820,2737.0 821,2737.0 822,2737.0 823,2737.0 824,2737.0 825,2736.9 826,2736.9 827,2736.8 828,2736.7 829,2736.5 830,2736.2 831,2735.8 832,2735.0 833,2733.6 834,2730.5 835,2724.2 835.6,2719.0 836,2717.1 836.1,2717.0 836.6,2719.1 837,2722.4 838,2729.7 839,2733.2 840,2734.9 841,2735.8 842,2736.3 843,2736.7 844,2736.9 845,2737.1 846,2737.2 847,2737.3 848,2737.4 849,2737.4 850,2737.5 851,2737.5 852,2737.5 853,2737.6 854,2737.6 855,2737.6 856,2737.7 857,2737.7 858,2737.7 859,2737.7 860,2737.7 861,2737.7 862,2737.8 863,2737.8 864,2737.8 865,2737.8 866,2737.8 867,2737.8 868,2737.8 869,2737.9 870,2737.9 871,2737.9 872,2737.9 873,2737.9 874,2737.9 875,2737.9 876,2737.9 877,2737.9 878,2738.0 879,2738.0 880,2738.0 881,2738.0 882,2738.0 883,2738.0 884,2738.0 885,2738.0 886,2738.0 887,2738.1 888,2738.1 889,2738.1 890,2738.1 891,2738.1 892,2738.1 893,2738.1 894,2738.1 895,2738.1 896,2738.2 897,2738.2 898,2738.2 899,2738.2 900,2738.2 901,2738.2 902,2738.2 903,2738.2 904,2738.2 905,2738.2 906,2738.2 907,2738.2 908,2738.2 909,2738.2 910,2738.2 911,2738.2 912,2738.2 913,2738.2 914,2738.2 915,2738.2 916,2738.1 917,2738.1 918,2738.1 919,2738.1 920,2738.0 921,2737.9 922,2737.8 923,2737.7 924,2737.5 925,2737.2 926,2736.8 927,2736.3 928,2735.5 929,2734.1 930,2731.5 931,2726.0 931.9,2718.2 932,2717.5 932.4,2716.0 932.9,2718.0 933,2718.8 934,2727.0 935,2731.4 936,2733.4 937,2734.3 938,2734.8 939,2735.0 940,2735.0 941,2734.9 942,2734.7 943,2734.2 944,2733.5 945,2732.2 946,2729.8 947,2725.1 948,2714.8 949,2696.0 949.1,2694.2 949.6,2689.5 950,2692.7 950.1,2694.3 951,2711.9 952,2724.1 953,2729.8 954,2732.7 955,2734.3 956,2735.3 957,2736.0 958,2736.4 959,2736.8 960,2737.0 961,2737.2 962,2737.3 963,2737.5 964,2737.5 965,2737.6 966,2737.7 967,2737.8 968,2737.8 969,2737.9 970,2737.9 971,2737.9 972,2738.0 973,2738.0 974,2738.0 975,2738.0 976,2738.1 977,2738.1 978,2738.1 979,2738.1 980,2738.1 981,2738.1 982,2738.1 983,2738.1 984,2738.0 985,2738.0 986,2738.0 987,2737.9 988,2737.8 989,2737.7 990,2737.5 991,2737.3 992,2736.9 993,2736.3 994,2735.2 995,2732.9 996,2728.2 997,2720.0 997.5,2718.0 998,2720.0 999,2728.2 1000,2732.9 1001,2735.2 1002,2736.3 1003,2736.9 1004,2737.3 1005,2737.5 1006,2737.7 1007,2737.8 1008,2737.9 1009,2738.0 1010,2738.0 1011,2738.0 1012,2738.1 1013,2738.1 1014,2738.1 1015,2738.1 1016,2738.1 1017,2738.1 1018,2738.1 1019,2738.1 1020,2738.2 1021,2738.2 1022,2738.2 1023,2738.2 1024,2738.1 1025,2738.1 1026,2738.1 1027,2738.1 1028,2738.1 1029,2738.1 1030,2738.1 1031,2738.1 1032,2738.1 1033,2738.1 1034,2738.1 1035,2738.1 1036,2738.1 1037,2738.0 1038,2738.0 1039,2738.0 1040,2738.0 1041,2738.0 1042,2738.0 1043,2738.0 1044,2737.9 1045,2737.9 1046,2737.9 1047,2737.9 1048,2737.9 1049,2737.8 1050,2737.8 1051,2737.8 1052,2737.8 1053,2737.7 1054,2737.7 1055,2737.7 1056,2737.6 1057,2737.6 1058,2737.6 1059,2737.5 1060,2737.5 1061,2737.4 1062,2737.2 1063,2737.0 1064,2736.7 1065,2736.3 1066,2735.9 1067,2735.4 1068,2734.9 1069,2734.4 1070,2733.8 1071,2733.3 1072,2732.7 1073,2732.1 1074,2731.6 1075,2731.0 1076,2730.4 1077,2729.6 1078,2728.8 1079,2727.9 1080,2727.1 1081,2726.3 1082,2725.5 1083,2724.9 1084,2724.3 1085,2723.6 1086,2722.7 1087,2721.4 1088,2719.6 1089,2716.9 1090,2712.5 1091,2705.0 1092,2690.6 1093,2658.8 1094,2571.7 1095,2318.7 1095.5,2216.0 1096,2319.0 1097,2572.5 1098,2660.1 1099,2692.4 1100,2707.3 1101,2715.2 1102,2719.9 1103,2723.0 1104,2725.0 1105,2726.4 1106,2727.4 1107,2728.0 1108,2728.3 1109,2728.1 1110,2727.4 1111,2725.4 1112,2720.9 1113,2710.7 1113.8,2698.1 1114,2695.8 1114.3,2694.4 1114.8,2698.5 1115,2701.6 1116,2716.9 1117,2725.1 1118,2729.0 1119,2731.2 1120,2732.5 1121,2733.3 1122,2733.9 1123,2734.4 1124,2734.7 1125,2735.0 1126,2735.2 1127,2735.4 1128,2735.6 1129,2735.7 1130,2735.8 1131,2736.0 1132,2736.1 1133,2736.2 1134,2736.2 1135,2736.3 1136,2736.4 1137,2736.5 1138,2736.5 1139,2736.6 1140,2736.7 1141,2736.7 1142,2736.8 1143,2736.8 1144,2736.8 1145,2736.9 1146,2736.9 1147,2736.9 1148,2737.0 1149,2737.0 1150,2737.0 1151,2737.0 1152,2737.0 1153,2737.0 1154,2737.0 1155,2737.1 1156,2737.1 1157,2737.1 1158,2737.1 1159,2737.1 1160,2737.1 1161,2737.1 1162,2737.1 1163,2737.1 1164,2737.1 1165,2737.1 1166,2737.1 1167,2737.1 1168,2737.1 1169,2737.1 1170,2737.1 1171,2737.1 1172,2737.1 1173,2737.1 1174,2737.1 1175,2737.1 1176,2737.1 1177,2737.1 1178,2737.1 1179,2737.0 1180,2737.0 1181,2736.9 1182,2736.9 1183,2736.8 1184,2736.6 1185,2736.4 1186,2736.1 1187,2735.6 1188,2735.2 1188.4,2735.1 1188.9,2735.0 1189,2735.0 1189.4,2735.1 1190,2735.3 1191,2735.7 1192,2736.1 1193,2736.4 1194,2736.6 1195,2736.7 1196,2736.8 1197,2736.9 1198,2736.9 1199,2737.0 1200,2737.0 1201,2737.0 1202,2737.0 1203,2737.1 1204,2737.1 1205,2737.1 1206,2737.1 1207,2737.1 1208,2737.1 1209,2737.1 1210,2737.1 1211,2737.1 1212,2737.1 1213,2737.1 1214,2737.1 1215,2737.1 1216,2737.1 1217,2737.1 1218,2737.1 1219,2737.1 1220,2737.1 1221,2737.1 1222,2737.1 1223,2737.1 1224,2737.1 1225,2737.1 1226,2737.1 1227,2737.1 1228,2737.1 1229,2737.1 1230,2737.1 1231,2737.1 1232,2737.1 1233,2737.1 1234,2737.1 1235,2737.1 1236,2737.1 1237,2737.1 1238,2737.1 1239,2737.1 1240,2737.1 1241,2737.1 1242,2737.1 1243,2737.1 1244,2737.1 1245,2737.1 1246,2737.1 1247,2737.1 1248,2737.1 1249,2737.1 1250,2737.1 1251,2737.1 1252,2737.1 1253,2737.0 1254,2737.0 1255,2737.0 1256,2737.0 1257,2737.0 1258,2737.0 1259,2737.0 1260,2737.0 1261,2737.0 1262,2736.9 1263,2736.7 1264,2736.5 1265,2736.3 1266,2736.0 1267,2735.7 1268,2735.4 1269,2735.0 1270,2734.6 1271,2734.2 1272,2733.7 1273,2733.2 1274,2732.7 1275,2732.2 1276,2731.7 1277,2731.1 1278,2730.4 1279,2729.6 1280,2728.7 1281,2727.3 1282,2725.0 1283,2720.5 1283.8,2715.3 1284,2714.3 1284.3,2713.6 1284.8,2714.9 1285,2716.0 1286,2721.4 1287,2724.2 1288,2725.3 1289,2725.8 1290,2726.0 1291,2726.0 1292,2726.0 1293,2725.9 1294,2725.7 1295,2725.4 1296,2724.7 1297,2723.1 1298,2719.8 1299,2712.9 1299.5,2708.9 1300,2707.2 1300.5,2709.4 1301,2713.8 1302,2721.5 1303,2725.7 1304,2728.1 1305,2729.6 1306,2730.7 1307,2731.6 1308,2732.3 1309,2733.0 1310,2733.6 1311,2734.2 1312,2734.7 1313,2735.2 1314,2735.6 1315,2736.0 1316,2736.3 1317,2736.6 1318,2736.8 1319,2736.9 1320,2737.0 1321,2737.0 1322,2737.1 1323,2737.1 1324,2737.1 1325,2737.2 1326,2737.2 1327,2737.2 1328,2737.2 1329,2737.2 1330,2737.3 1331,2737.3 1332,2737.3 1333,2737.3 1334,2737.3 1335,2737.3 1336,2737.4 1337,2737.4 1338,2737.4 1339,2737.4 1340,2737.4 1341,2737.4 1342,2737.4 1343,2737.4 1344,2737.4 1345,2737.5 1346,2737.5 1347,2737.5 1348,2737.5 1349,2737.5 1350,2737.5 1351,2737.5 1352,2737.5 1353,2737.5 1354,2737.5 1355,2737.5 1356,2737.5 1357,2737.5 1358,2737.5 1359,2737.5 1360,2737.5 1361,2737.5 1362,2737.5 1363,2737.5 1364,2737.5 1365,2737.5 1366,2737.5 1367,2737.4 1368,2737.4 1369,2737.4 1370,2737.3 1371,2737.3 1372,2737.2 1373,2737.1 1374,2737.0 1375,2736.8 1376,2736.5 1377,2736.1 1378,2735.4 1379,2734.2 1380,2731.7 1381,2726.4 1382,2717.4 1382.5,2715.2 1383,2717.4 1384,2726.4 1385,2731.7 1386,2734.2 1387,2735.4 1388,2736.1 1389,2736.5 1390,2736.7 1391,2736.9 1392,2737.0 1393,2737.0 1394,2737.0 1395,2737.0 1396,2736.9 1397,2736.8 1398,2736.7 1399,2736.4 1400,2736.0 1401,2735.4 1402,2734.3 1403,2732.7 1404,2730.7 1404.5,2729.9 1405,2729.6 1405.5,2729.9 1406,2730.7 1407,2732.8 1408,2734.4 1409,2735.4 1410,2736.1 1411,2736.5 1412,2736.8 1413,2737.0 1414,2737.1 1415,2737.2 1416,2737.3 1417,2737.4 1418,2737.4 1419,2737.5 1420,2737.5 1421,2737.5 1422,2737.5 1423,2737.6 1424,2737.6 1425,2737.6 1426,2737.6 1427,2737.6 1428,2737.6 1429,2737.6 1430,2737.6 1431,2737.5 1432,2737.5 1433,2737.5 1434,2737.5 1435,2737.4 1436,2737.4 1437,2737.3 1438,2737.2 1439,2737.1 1440,2736.9 1441,2736.7 1442,2736.3 1443,2735.7 1444,2734.9 1445,2734.0 1446,2733.1 1446.5,2733.0 1447,2733.1 1448,2733.9 1449,2734.9 1450,2735.7 1451,2736.3 1452,2736.6 1453,2736.9 1454,2737.1 1455,2737.2 1456,2737.3 1457,2737.3 1458,2737.4 1459,2737.4 1460,2737.4 1461,2737.4 1462,2737.4 1463,2737.4 1464,2737.4 1465,2737.3 1466,2737.3 1467,2737.2 1468,2737.2 1469,2737.1 1470,2737.0 1471,2736.8 1472,2736.6 1473,2736.3 1474,2735.8 1475,2735.2 1476,2734.2 1477,2732.7 1478,2730.2 1479,2726.6 1480,2722.9 1480.1,2722.6 1480.6,2722.0 1481,2722.4 1481.1,2722.6 1482,2725.8 1483,2729.6 1484,2732.3 1485,2734.0 1486,2735.0 1487,2735.7 1488,2736.2 1489,2736.5 1490,2736.8 1491,2737.0 1492,2737.1 1493,2737.2 1494,2737.3 1495,2737.3 1496,2737.4 1497,2737.4 1498,2737.5 1499,2737.5 1500,2737.5 1501,2737.5 1502,2737.5 1503,2737.5 1504,2737.5 1505,2737.5 1506,2737.4 1507,2737.4 1508,2737.3 1509,2737.2 1510,2737.1 1511,2736.9 1512,2736.7 1513,2736.3 1514,2735.7 1515,2735.0 1516,2734.3 1516.3,2734.1 1516.8,2734.0 1517,2734.0 1517.3,2734.1 1518,2734.5 1519,2735.3 1520,2736.0 1521,2736.4 1522,2736.8 1523,2737.0 1524,2737.1 1525,2737.2 1526,2737.3 1527,2737.3 1528,2737.4 1529,2737.4 1530,2737.4 1531,2737.4 1532,2737.4 1533,2737.3 1534,2737.3 1535,2737.2 1536,2737.2 1537,2737.1 1538,2737.0 1539,2736.8 1540,2736.5 1541,2736.2 1542,2735.7 1543,2734.9 1544,2733.5 1545,2731.6 1546,2729.3 1546.3,2728.8 1546.8,2728.4 1547,2728.5 1547.3,2728.8 1548,2730.1 1549,2732.4 1550,2734.1 1551,2735.2 1552,2735.8 1553,2736.3 1554,2736.6 1555,2736.8 1556,2736.9 1557,2737.0 1558,2737.1 1559,2737.1 1560,2737.2 1561,2737.2 1562,2737.2 1563,2737.2 1564,2737.2 1565,2737.2 1566,2737.2 1567,2737.1 1568,2737.1 1569,2737.0 1570,2737.0 1571,2736.9 1572,2736.7 1573,2736.5 1574,2736.3 1575,2735.9 1576,2735.2 1577,2734.2 1578,2732.7 1579,2730.6 1579.7,2729.3 1580,2729.1 1580.2,2729.0 1580.7,2729.3 1581,2729.8 1582,2731.9 1583,2733.7 1584,2734.9 1585,2735.6 1586,2736.1 1587,2736.4 1588,2736.6 1589,2736.7 1590,2736.8 1591,2736.9 1592,2737.0 1593,2737.0 1594,2737.0 1595,2737.0 1596,2737.0 1597,2737.0 1598,2737.0 1599,2737.0 1600,2737.0 1601,2737.0 1602,2736.9 1603,2736.9 1604,2736.8 1605,2736.7 1606,2736.5 1607,2736.4 1608,2736.1 1609,2735.7 1610,2735.1 1611,2734.2 1612,2732.7 1613,2730.1 1614,2725.9 1614.9,2722.1 1615,2721.8 1615.4,2721.3 1615.9,2722.1 1616,2722.4 1617,2726.9 1618,2730.7 1619,2733.1 1620,2734.5 1621,2735.3 1622,2735.9 1623,2736.2 1624,2736.5 1625,2736.7 1626,2736.8 1627,2736.9 1628,2737.0 1629,2737.0 1630,2737.1 1631,2737.1 1632,2737.1 1633,2737.1 1634,2737.1 1635,2737.0 1636,2737.0 1637,2736.9 1638,2736.8 1639,2736.6 1640,2736.3 1641,2736.0 1642,2735.4 1643,2734.5 1644,2733.0 1645,2730.2 1646,2724.6 1647,2713.3 1647.7,2702.9 1648,2700.1 1648.2,2699.5 1648.7,2702.9 1649,2707.2 1650,2721.0 1651,2728.5 1652,2732.2 1653,2734.2 1654,2735.3 1655,2736.0 1656,2736.5 1657,2736.9 1658,2737.1 1659,2737.3 1660,2737.5 1661,2737.6 1662,2737.7 1663,2737.8 1664,2737.8 1665,2737.9 1666,2737.9 1667,2738.0 1668,2738.0 1669,2738.1 1670,2738.1 1671,2738.1 1672,2738.2 1673,2738.2 1674,2738.2 1675,2738.2 1676,2738.3 1677,2738.3 1678,2738.3 1679,2738.3 1680,2738.3 1681,2738.4 1682,2738.4 1683,2738.4 1684,2738.4 1685,2738.4 1686,2738.4 1687,2738.4 1688,2738.4 1689,2738.5 1690,2738.5 1691,2738.5 1692,2738.5 1693,2738.5 1694,2738.5 1695,2738.5 1696,2738.5 1697,2738.5 1698,2738.5 1699,2738.5 1700,2738.5 1701,2738.5 1702,2738.5 1703,2738.5 1704,2738.5 1705,2738.5 1706,2738.5 1707,2738.5 1708,2738.5 1709,2738.5 1710,2738.5 1711,2738.4 1712,2738.4 1713,2738.4 1714,2738.4 1715,2738.4 1716,2738.3 1717,2738.3 1718,2738.2 1719,2738.1 1720,2738.0 1721,2737.8 1722,2737.6 1723,2737.2 1724,2736.6 1725,2736.0 1725.8,2735.6 1726,2735.5 1726.3,2735.5 1726.8,2735.6 1727,2735.7 1728,2736.2 1729,2736.9 1730,2737.4 1731,2737.7 1732,2737.9 1733,2738.1 1734,2738.2 1735,2738.2 1736,2738.3 1737,2738.3 1738,2738.4 1739,2738.4 1740,2738.4 1741,2738.4 1742,2738.4 1743,2738.4 1744,2738.4 1745,2738.4 1746,2738.4 1747,2738.4 1748,2738.4 1749,2738.4 1750,2738.3 1751,2738.3 1752,2738.2 1753,2738.1 1754,2738.0 1755,2737.8 1756,2737.6 1757,2737.2 1758,2736.7 1759,2736.2 1759.3,2736.1 1759.8,2736.0 1760,2736.0 1760.3,2736.1 1761,2736.4 1762,2736.9 1763,2737.4 1764,2737.7 1765,2737.9 1766,2738.1 1767,2738.2 1768,2738.3 1769,2738.3 1770,2738.4 1771,2738.4 1772,2738.4 1773,2738.4 1774,2738.5 1775,2738.5 1776,2738.5 1777,2738.5 1778,2738.5 1779,2738.5 1780,2738.5 1781,2738.5 1782,2738.5 1783,2738.5 1784,2738.5 1785,2738.5 1786,2738.5 1787,2738.5 1788,2738.5 1789,2738.5 1790,2738.4 1791,2738.4 1792,2738.4 1793,2738.4 1794,2738.4 1795,2738.3 1796,2738.3 1797,2738.2 1798,2738.1 1799,2738.0 1800,2737.9 1801,2737.7 1802,2737.4 1803,2737.0 1804,2736.2 1805,2734.8 1806,2732.5 1806.8,2730.5 1807,2730.2 1807.3,2730.0 1807.8,2730.5 1808,2730.9 1809,2733.3 1810,2735.1 1811,2736.0 1812,2736.3 1813,2736.3 1814,2735.9 1815,2734.9 1816,2733.0 1817,2730.0 1817.4,2729.0 1817.9,2728.4 1818,2728.4 1818.4,2729.0 1819,2730.8 1820,2733.7 1821,2735.5 1822,2736.5 1823,2737.1 1824,2737.5 1825,2737.8 1826,2737.9 1827,2738.1 1828,2738.1 1829,2738.2 1830,2738.3 1831,2738.3 1832,2738.3 1833,2738.4 1834,2738.4 1835,2738.4 1836,2738.4 1837,2738.4 1838,2738.4 1839,2738.5 1840,2738.5 1841,2738.5 1842,2738.5 1843,2738.5 1844,2738.5 1845,2738.5 1846,2738.5 1847,2738.5 1848,2738.5 1849,2738.5 1850,2738.5 1851,2738.5 1852,2738.5 1853,2738.5 1854,2738.5 1855,2738.5 1856,2738.5 1857,2738.5 1858,2738.5 1859,2738.5 1860,2738.5 1861,2738.5 1862,2738.5 1863,2738.5 1864,2738.5 1865,2738.5 1866,2738.5 1867,2738.4 1868,2738.4 1869,2738.4 1870,2738.4 1871,2738.4 1872,2738.4 1873,2738.4 1874,2738.3 1875,2738.3 1876,2738.3 1877,2738.2 1878,2738.2 1879,2738.1 1880,2738.1 1881,2737.9 1882,2737.8 1883,2737.6 1884,2737.4 1885,2737.0 1886,2736.3 1887,2735.3 1888,2733.3 1889,2729.4 1890,2721.6 1890.6,2715.8 1891,2713.7 1891.1,2713.6 1891.6,2715.8 1892,2719.6 1893,2728.2 1894,2732.7 1895,2735.0 1896,2736.1 1897,2736.8 1898,2737.3 1899,2737.6 1900,2737.8 1901,2737.9 1902,2738.0 1903,2738.1 1904,2738.2 1905,2738.2 1906,2738.3 1907,2738.3 1908,2738.3 1909,2738.3 1910,2738.4 1911,2738.4 1912,2738.4 1913,2738.4 1914,2738.4 1915,2738.4 1916,2738.4 1917,2738.4 1918,2738.5 1919,2738.5 1920,2738.5 1921,2738.5 1922,2738.5 1923,2738.5 1924,2738.5 1925,2738.5 1926,2738.5 1927,2738.5 1928,2738.5 1929,2738.5 1930,2738.5 1931,2738.5 1932,2738.5 1933,2738.5 1934,2738.5 1935,2738.5 1936,2738.5 1937,2738.5 1938,2738.5 1939,2738.5 1940,2738.5 1941,2738.5 1942,2738.5 1943,2738.5 1944,2738.5 1945,2738.5 1946,2738.5 1947,2738.5 1948,2738.5 1949,2738.5 1950,2738.5 1951,2738.5 1952,2738.5 1953,2738.5 1954,2738.5 1955,2738.5 1956,2738.5"/><line x1="1026.9" y1="996.0" x2="1357.3" y2="740.2" stroke="#000" stroke-width="4.3" stroke-linecap="round"/><polygon points="1392.6,712.3 1349.6,731.1 1365.1,749.4" fill="#000" stroke="#000" stroke-width="2" stroke-linejoin="round"/><line x1="780.6" y1="1537.5" x2="1047.3" y2="1762.4" stroke="#000" stroke-width="4.2" stroke-linecap="round"/><polygon points="1074,1778.3 1040.3,1771.3 1054.4,1753.5" fill="#000" stroke="#000" stroke-width="2" stroke-linejoin="round"/><rect x="147" y="28" width="1811.5" height="2786" fill="none" stroke="#000" stroke-width="8"/><line x1="151" y1="1439" x2="1964" y2="1439" stroke="#000" stroke-width="4"/><line x1="286.5" y1="2779" x2="286.5" y2="2812" stroke="#000" stroke-width="7"/><line x1="425.8" y1="2779" x2="425.8" y2="2812" stroke="#000" stroke-width="7"/><line x1="565.1" y1="2779" x2="565.1" y2="2812" stroke="#000" stroke-width="7"/><line x1="704.4" y1="2779" x2="704.4" y2="2812" stroke="#000" stroke-width="7"/><line x1="843.7" y1="2779" x2="843.7" y2="2812" stroke="#000" stroke-width="7"/><line x1="983.0" y1="2779" x2="983.0" y2="2812" stroke="#000" stroke-width="7"/><line x1="1122.3" y1="2779" x2="1122.3" y2="2812" stroke="#000" stroke-width="7"/><line x1="1261.6" y1="2779" x2="1261.6" y2="2812" stroke="#000" stroke-width="7"/><line x1="1400.9" y1="2779" x2="1400.9" y2="2812" stroke="#000" stroke-width="7"/><line x1="1540.2" y1="2779" x2="1540.2" y2="2812" stroke="#000" stroke-width="7"/><line x1="1679.5" y1="2779" x2="1679.5" y2="2812" stroke="#000" stroke-width="7"/><line x1="1818.8" y1="2779" x2="1818.8" y2="2812" stroke="#000" stroke-width="7"/><line x1="216.8" y1="2797" x2="216.8" y2="2812" stroke="#000" stroke-width="7"/><line x1="356.1" y1="2797" x2="356.1" y2="2812" stroke="#000" stroke-width="7"/><line x1="495.4" y1="2797" x2="495.4" y2="2812" stroke="#000" stroke-width="7"/><line x1="634.8" y1="2797" x2="634.8" y2="2812" stroke="#000" stroke-width="7"/><line x1="774.0" y1="2797" x2="774.0" y2="2812" stroke="#000" stroke-width="7"/><line x1="913.3" y1="2797" x2="913.3" y2="2812" stroke="#000" stroke-width="7"/><line x1="1052.6" y1="2797" x2="1052.6" y2="2812" stroke="#000" stroke-width="7"/><line x1="1192.0" y1="2797" x2="1192.0" y2="2812" stroke="#000" stroke-width="7"/><line x1="1331.2" y1="2797" x2="1331.2" y2="2812" stroke="#000" stroke-width="7"/><line x1="1470.5" y1="2797" x2="1470.5" y2="2812" stroke="#000" stroke-width="7"/><line x1="1609.8" y1="2797" x2="1609.8" y2="2812" stroke="#000" stroke-width="7"/><line x1="1749.2" y1="2797" x2="1749.2" y2="2812" stroke="#000" stroke-width="7"/><line x1="1888.5" y1="2797" x2="1888.5" y2="2812" stroke="#000" stroke-width="7"/><g font-family="'Liberation Sans', Arial, sans-serif" font-size="78" fill="#000"><text transform="translate(147.2,2912.5) scale(0.98,1.025)" text-anchor="middle">5</text><text transform="translate(286.5,2912.5) scale(0.93,1.025)" text-anchor="middle">10</text><text transform="translate(425.8,2912.5) scale(0.93,1.025)" text-anchor="middle">15</text><text transform="translate(565.1,2912.5) scale(0.98,1.025)" text-anchor="middle">20</text><text transform="translate(704.4,2912.5) scale(0.98,1.025)" text-anchor="middle">25</text><text transform="translate(843.7,2912.5) scale(0.98,1.025)" text-anchor="middle">30</text><text transform="translate(983.0,2912.5) scale(0.98,1.025)" text-anchor="middle">35</text><text transform="translate(1122.3,2912.5) scale(0.98,1.025)" text-anchor="middle">40</text><text transform="translate(1261.6,2912.5) scale(0.98,1.025)" text-anchor="middle">45</text><text transform="translate(1400.9,2912.5) scale(0.98,1.025)" text-anchor="middle">50</text><text transform="translate(1540.2,2912.5) scale(0.98,1.025)" text-anchor="middle">55</text><text transform="translate(1679.5,2912.5) scale(0.98,1.025)" text-anchor="middle">60</text><text transform="translate(1818.8,2912.5) scale(0.98,1.025)" text-anchor="middle">65</text><text transform="translate(1958.1,2912.5) scale(0.98,1.025)" text-anchor="middle">70</text></g><text transform="translate(264.3,226.3) scale(0.973,1)" font-family="IPAGothic, 'Liberation Sans', sans-serif" font-weight="bold" font-size="77.7" fill="#0000a8" stroke="#0000a8" stroke-width="1.60" stroke-linejoin="round">*</text><text transform="translate(341.4,1059.3) scale(0.795,1)" font-family="'Liberation Sans', Arial, sans-serif" font-size="94.2" fill="#ff0000" stroke="#ff0000" stroke-width="1.13">#</text><text transform="translate(449.2,1207.6) scale(0.995,1)" font-family="IPAGothic, 'Liberation Sans', sans-serif" font-weight="bold" font-size="75.7" fill="#000080" stroke="#000080" stroke-width="1.56" stroke-linejoin="round">*</text><text transform="translate(528.8,1015.9) scale(1.009,1)" font-family="IPAGothic, 'Liberation Sans', sans-serif" font-weight="bold" font-size="75.7" fill="#000080" stroke="#000080" stroke-width="1.56" stroke-linejoin="round">*</text><text transform="translate(645.2,1012.7) scale(0.814,1)" font-family="'Liberation Sans', Arial, sans-serif" font-size="94.5" fill="#ff0000" stroke="#ff0000" stroke-width="1.11">#</text><text transform="translate(677.6,1124.7) scale(1.027,1)" font-family="IPAGothic, 'Liberation Sans', sans-serif" font-weight="bold" font-size="43.5" fill="#000080" stroke="#000080" stroke-width="0.90" stroke-linejoin="round">*</text><text transform="translate(671.5,183.5) scale(0.805,1)" font-family="'Liberation Sans', Arial, sans-serif" font-size="94.2" fill="#ff0000" stroke="#ff0000" stroke-width="1.12">#</text><text transform="translate(720.0,184.3) scale(0.982,1)" font-family="IPAGothic, 'Liberation Sans', sans-serif" font-weight="bold" font-size="77.7" fill="#000080" stroke="#000080" stroke-width="1.60" stroke-linejoin="round">*</text><text transform="translate(752.4,428.5) scale(0.800,1)" font-family="'Liberation Sans', Arial, sans-serif" font-size="94.5" fill="#ff0000" stroke="#ff0000" stroke-width="1.12">#</text><text transform="translate(809.5,803.5) scale(0.800,1)" font-family="'Liberation Sans', Arial, sans-serif" font-size="94.5" fill="#ff0000" stroke="#ff0000" stroke-width="1.12">#</text><text transform="translate(853.7,1114.6) scale(1.035,1)" font-family="IPAGothic, 'Liberation Sans', sans-serif" font-weight="bold" font-size="48.8" fill="#000080" stroke="#000080" stroke-width="1.01" stroke-linejoin="round">*</text><text transform="translate(853.9,1303.3) scale(1.031,1)" font-family="IPAGothic, 'Liberation Sans', sans-serif" font-weight="bold" font-size="74.7" fill="#000080" stroke="#000080" stroke-width="1.54" stroke-linejoin="round">*</text><text transform="translate(933.0,1156.5) scale(0.781,1)" font-family="'Liberation Sans', Arial, sans-serif" font-size="94.2" fill="#ff0000" stroke="#ff0000" stroke-width="1.15">#</text><text transform="translate(978.5,1028.5) scale(0.801,1)" font-family="'Liberation Sans', Arial, sans-serif" font-size="94.2" fill="#ff0000" stroke="#ff0000" stroke-width="1.12">#</text><text transform="translate(1025.2,1307.9) scale(0.814,1)" font-family="'Liberation Sans', Arial, sans-serif" font-size="93.3" fill="#ff0000" stroke="#ff0000" stroke-width="1.11">#</text><text transform="translate(1075.9,1210.7) scale(1.014,1)" font-family="IPAGothic, 'Liberation Sans', sans-serif" font-weight="bold" font-size="75.3" fill="#000080" stroke="#000080" stroke-width="1.55" stroke-linejoin="round">*</text><text transform="translate(1154.3,1335.8) scale(0.994,1)" font-family="IPAGothic, 'Liberation Sans', sans-serif" font-weight="bold" font-size="77.0" fill="#000080" stroke="#000080" stroke-width="1.58" stroke-linejoin="round">*</text><text transform="translate(1189.8,1262.8) scale(1.009,1)" font-family="IPAGothic, 'Liberation Sans', sans-serif" font-weight="bold" font-size="77.0" fill="#000080" stroke="#000080" stroke-width="1.58" stroke-linejoin="round">*</text><text transform="translate(1280.5,1233.2) scale(0.801,1)" font-family="'Liberation Sans', Arial, sans-serif" font-size="94.2" fill="#ff0000" stroke="#ff0000" stroke-width="1.12">#</text><text transform="translate(1363.0,1213.5) scale(1.003,1)" font-family="IPAGothic, 'Liberation Sans', sans-serif" font-weight="bold" font-size="76.8" fill="#000080" stroke="#000080" stroke-width="1.58" stroke-linejoin="round">*</text><text transform="translate(1461.5,1317.5) scale(0.799,1)" font-family="'Liberation Sans', Arial, sans-serif" font-size="93.9" fill="#ff0000" stroke="#ff0000" stroke-width="1.13">#</text><text transform="translate(1545.3,1245.9) scale(0.978,1)" font-family="IPAGothic, 'Liberation Sans', sans-serif" font-weight="bold" font-size="77.3" fill="#000080" stroke="#000080" stroke-width="1.59" stroke-linejoin="round">*</text><text transform="translate(1619.5,1246.5) scale(0.801,1)" font-family="'Liberation Sans', Arial, sans-serif" font-size="94.2" fill="#ff0000" stroke="#ff0000" stroke-width="1.12">#</text><text transform="translate(1705.5,1297.5) scale(0.801,1)" font-family="'Liberation Sans', Arial, sans-serif" font-size="94.2" fill="#ff0000" stroke="#ff0000" stroke-width="1.12">#</text><text transform="translate(1782.5,1312.5) scale(0.801,1)" font-family="'Liberation Sans', Arial, sans-serif" font-size="94.2" fill="#ff0000" stroke="#ff0000" stroke-width="1.12">#</text><text transform="translate(1846.5,1295.5) scale(0.801,1)" font-family="'Liberation Sans', Arial, sans-serif" font-size="94.2" fill="#ff0000" stroke="#ff0000" stroke-width="1.12">#</text><text transform="translate(1884.8,1288.8) scale(0.983,1)" font-family="IPAGothic, 'Liberation Sans', sans-serif" font-weight="bold" font-size="77.0" fill="#000080" stroke="#000080" stroke-width="1.58" stroke-linejoin="round">*</text><text transform="translate(345.2,1552.2) scale(0.998,1)" font-family="IPAGothic, 'Liberation Sans', sans-serif" font-weight="bold" font-size="76.0" fill="#000080" stroke="#000080" stroke-width="1.57" stroke-linejoin="round">*</text><text transform="translate(629.3,2463.1) scale(0.978,1)" font-family="IPAGothic, 'Liberation Sans', sans-serif" font-weight="bold" font-size="77.3" fill="#000080" stroke="#000080" stroke-width="1.59" stroke-linejoin="round">*</text><text transform="translate(708.5,1535.4) scale(1.005,1)" font-family="IPAGothic, 'Liberation Sans', sans-serif" font-weight="bold" font-size="76.6" fill="#000080" stroke="#000080" stroke-width="1.58" stroke-linejoin="round">*</text><text transform="translate(738.2,2469.3) scale(1.010,1)" font-family="IPAGothic, 'Liberation Sans', sans-serif" font-weight="bold" font-size="75.8" fill="#000080" stroke="#000080" stroke-width="1.56" stroke-linejoin="round">*</text><text transform="translate(822.0,2678.8) scale(1.010,1)" font-family="IPAGothic, 'Liberation Sans', sans-serif" font-weight="bold" font-size="75.8" fill="#000080" stroke="#000080" stroke-width="1.56" stroke-linejoin="round">*</text><text transform="translate(911.2,2670.9) scale(0.997,1)" font-family="IPAGothic, 'Liberation Sans', sans-serif" font-weight="bold" font-size="76.8" fill="#000080" stroke="#000080" stroke-width="1.58" stroke-linejoin="round">*</text><text transform="translate(988.0,2682.7) scale(1.006,1)" font-family="IPAGothic, 'Liberation Sans', sans-serif" font-weight="bold" font-size="77.0" fill="#000080" stroke="#000080" stroke-width="1.58" stroke-linejoin="round">*</text><text transform="translate(1066.2,2181.3) scale(0.979,1)" font-family="IPAGothic, 'Liberation Sans', sans-serif" font-weight="bold" font-size="77.7" fill="#000080" stroke="#000080" stroke-width="1.60" stroke-linejoin="round">*</text><text transform="translate(1115.2,2652.1) scale(0.996,1)" font-family="IPAGothic, 'Liberation Sans', sans-serif" font-weight="bold" font-size="76.2" fill="#000080" stroke="#000080" stroke-width="1.57" stroke-linejoin="round">*</text><text transform="translate(1194.5,2669.7) scale(1.026,1)" font-family="IPAGothic, 'Liberation Sans', sans-serif" font-weight="bold" font-size="75.3" fill="#000080" stroke="#000080" stroke-width="1.55" stroke-linejoin="round">*</text><text transform="translate(1289.9,2681.9) scale(1.015,1)" font-family="IPAGothic, 'Liberation Sans', sans-serif" font-weight="bold" font-size="75.7" fill="#000080" stroke="#000080" stroke-width="1.56" stroke-linejoin="round">*</text><text transform="translate(1370.5,2688.3) scale(1.024,1)" font-family="IPAGothic, 'Liberation Sans', sans-serif" font-weight="bold" font-size="75.7" fill="#000080" stroke="#000080" stroke-width="1.56" stroke-linejoin="round">*</text><text transform="translate(1447.5,2688.4) scale(0.999,1)" font-family="IPAGothic, 'Liberation Sans', sans-serif" font-weight="bold" font-size="76.2" fill="#000080" stroke="#000080" stroke-width="1.57" stroke-linejoin="round">*</text><text transform="translate(1615.3,2665.3) scale(1.030,1)" font-family="IPAGothic, 'Liberation Sans', sans-serif" font-weight="bold" font-size="74.2" fill="#000080" stroke="#000080" stroke-width="1.53" stroke-linejoin="round">*</text><text transform="translate(1843.5,2685.8) scale(1.020,1)" font-family="IPAGothic, 'Liberation Sans', sans-serif" font-weight="bold" font-size="74.9" fill="#000080" stroke="#000080" stroke-width="1.54" stroke-linejoin="round">*</text><rect x="1270" y="38.5" width="671" height="157" fill="none" stroke="#000" stroke-width="4"/><line x1="1282" y1="113" x2="1489" y2="113" stroke="#ff0000" stroke-width="8.3" stroke-linecap="round"/><text transform="translate(1511.9,145.9) scale(1.058,1)" font-family="'DejaVu Math TeX Gyre', 'Liberation Serif', serif" font-weight="bold" font-size="87.7">α</text><text transform="translate(1572.9,145) scale(1,1.03)" font-family="'Liberation Sans', Arial, sans-serif" font-weight="bold" font-size="93">/h-MoO</text><text x="1893.2" y="170.4" font-family="'Liberation Sans', Arial, sans-serif" font-weight="bold" font-size="58">3</text><rect x="1312" y="1463" width="627" height="157.5" fill="none" stroke="#000" stroke-width="4"/><line x1="1325" y1="1531.4" x2="1551" y2="1531.4" stroke="#000080" stroke-width="7.5" stroke-linecap="round"/><text transform="translate(1572.1,1571.1) scale(1.005,1)" font-family="'DejaVu Math TeX Gyre', 'Liberation Serif', serif" font-weight="bold" font-size="89.5">α</text><text transform="translate(1631.4,1569) scale(1,1.03)" font-family="'Liberation Sans', Arial, sans-serif" font-weight="bold" font-size="93">–MoO</text><text transform="translate(1892,1595.6) scale(0.92,1)" font-family="'Liberation Sans', Arial, sans-serif" font-weight="bold" font-size="66">3</text><text x="1217" y="280.8" font-family="'Liberation Sans', Arial, sans-serif" font-size="93" fill="#000080">*</text><text transform="translate(1282,290) scale(0.996,1.043)" font-family="'Liberation Sans', Arial, sans-serif" font-size="93" fill="#000080">- Orthorhombic</text><text transform="translate(1215.7,407) scale(1,1.07)" font-family="'Liberation Sans', Arial, sans-serif" font-size="91.4" fill="#ff0000"># - Hexagonal</text><text transform="translate(1208.7,1756.0) scale(0.996,1)" font-family="IPAGothic, 'Liberation Sans', sans-serif" font-weight="bold" font-size="77.7" fill="#000080" stroke="#000080" stroke-width="1.60" stroke-linejoin="round">*</text><text transform="translate(1277.4,1757) scale(0.996,1.043)" font-family="'Liberation Sans', Arial, sans-serif" font-size="93" fill="#000080">- Orthorhombic</text><text x="1803.2" y="1095.5" font-family="'Liberation Sans', Arial, sans-serif" font-weight="bold" font-size="94">(a)</text><text x="1813.3" y="2414.8" font-family="'Liberation Sans', Arial, sans-serif" font-weight="bold" font-size="93.3">(b)</text><text transform="translate(87.4,1757.5) rotate(-90) scale(1,1.02)" font-family="'Liberation Sans', Arial, sans-serif" font-weight="bold" font-size="93.4">Intensity (a.u)</text><text x="841.1" y="3023.7" font-family="'Liberation Sans', Arial, sans-serif" font-weight="bold" font-size="78.4">2</text><text x="883" y="3025" font-family="'Liberation Serif', 'Times New Roman', serif" font-weight="bold" font-size="80">θ</text><text x="947.6" y="3023.8" font-family="'Liberation Sans', Arial, sans-serif" font-weight="bold" font-size="78.4">(Degree)</text></svg>
</body></html>
